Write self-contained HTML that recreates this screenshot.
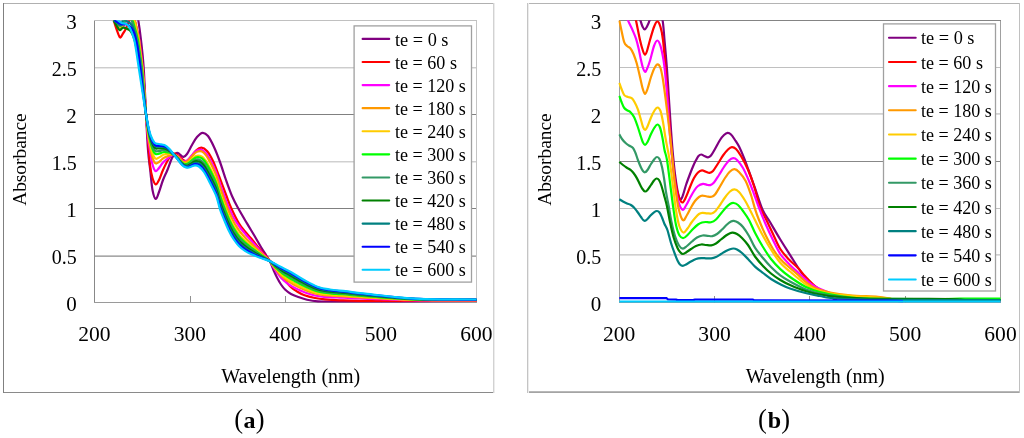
<!DOCTYPE html>
<html><head><meta charset="utf-8"><title>UV-Vis absorbance spectra</title>
<style>
html,body{margin:0;padding:0;background:#fff;}
body{width:1024px;height:438px;overflow:hidden;font-family:"Liberation Serif",serif;}
svg{display:block;}
</style></head><body>
<svg width="1024" height="438" viewBox="0 0 1024 438" font-family='"Liberation Serif", serif' fill="#000" style="will-change:transform">
<rect width="1024" height="438" fill="#fff"/>
<g shape-rendering="crispEdges">
<rect x="3.0" y="3" width="491.0" height="1" fill="#b0b0b0"/>
<rect x="3.0" y="392" width="491.0" height="1" fill="#8a8a8a"/>
<rect x="3" y="3.0" width="1" height="390.0" fill="#808080"/>
<rect x="493" y="3.0" width="1" height="390.0" fill="#d2d2d2"/>
<rect x="494" y="3.0" width="1" height="390.0" fill="#ececec"/>
<rect x="94.0" y="20" width="383.0" height="1" fill="#c0c0c0"/>
<rect x="94.0" y="67" width="383.0" height="1" fill="#cdcdcd"/>
<rect x="94.0" y="68" width="383.0" height="1" fill="#e8e8e8"/>
<rect x="94.0" y="114" width="383.0" height="1" fill="#808080"/>
<rect x="94.0" y="161" width="383.0" height="1" fill="#d0d0d0"/>
<rect x="94.0" y="162" width="383.0" height="1" fill="#e8e8e8"/>
<rect x="94.0" y="208" width="383.0" height="1" fill="#808080"/>
<rect x="94.0" y="255" width="383.0" height="1" fill="#c4c4c4"/>
<rect x="94.0" y="256" width="383.0" height="1" fill="#a8a8a8"/>
<rect x="476" y="20.5" width="1" height="282.5" fill="#c4c4c4"/>
<rect x="94" y="20.5" width="1" height="282.5" fill="#888888"/>
<rect x="94.0" y="302" width="383.0" height="1" fill="#9a9a9a"/>
<rect x="190" y="296.0" width="1" height="6.5" fill="#909090"/>
<rect x="285" y="296.0" width="1" height="6.5" fill="#909090"/>
<rect x="381" y="296.0" width="1" height="6.5" fill="#909090"/>
</g>
<clipPath id="ca"><rect x="93.5" y="20.20" width="384.0" height="286.0"/></clipPath>
<g clip-path="url(#ca)" fill="none" stroke-width="2.2" stroke-linejoin="round" stroke-linecap="butt">
<path d="M113.70,5.00 C115.58,4.17 121.45,0.00 125.00,0.00 C128.55,0.00 132.78,1.60 135.00,5.00 C137.22,8.40 137.30,14.57 138.30,20.40 C139.30,26.23 140.10,32.12 141.00,40.00 C141.90,47.88 142.87,55.37 143.70,67.70 C144.53,80.03 145.28,100.28 146.00,114.00 C146.72,127.72 147.30,140.67 148.00,150.00 C148.70,159.33 149.45,163.33 150.20,170.00 C150.95,176.67 151.58,185.17 152.50,190.00 C153.42,194.83 154.62,198.67 155.70,199.00 C156.78,199.33 157.78,195.17 159.00,192.00 C160.22,188.83 161.60,183.67 163.00,180.00 C164.40,176.33 165.90,173.67 167.40,170.00 C168.90,166.33 170.73,160.67 172.00,158.00 C173.27,155.33 174.00,154.83 175.00,154.00 C176.00,153.17 177.00,152.75 178.00,153.00 C179.00,153.25 180.08,154.85 181.00,155.50 C181.92,156.15 182.50,157.15 183.50,156.90 C184.50,156.65 185.58,155.98 187.00,154.00 C188.42,152.02 190.33,147.83 192.00,145.00 C193.67,142.17 195.23,139.03 197.00,137.00 C198.77,134.97 200.77,132.97 202.60,132.80 C204.43,132.63 206.10,133.63 208.00,136.00 C209.90,138.37 212.00,142.67 214.00,147.00 C216.00,151.33 218.00,156.50 220.00,162.00 C222.00,167.50 224.00,174.33 226.00,180.00 C228.00,185.67 229.97,191.28 232.00,196.00 C234.03,200.72 235.70,203.73 238.20,208.30 C240.70,212.87 244.37,218.95 247.00,223.40 C249.63,227.85 251.70,231.12 254.00,235.00 C256.30,238.88 258.75,243.28 260.80,246.70 C262.85,250.12 264.73,252.95 266.30,255.50 C267.87,258.05 269.00,259.58 270.20,262.00 C271.40,264.42 272.37,267.42 273.50,270.00 C274.63,272.58 275.75,275.08 277.00,277.50 C278.25,279.92 279.62,282.45 281.00,284.50 C282.38,286.55 283.63,288.22 285.30,289.80 C286.97,291.38 288.95,292.85 291.00,294.00 C293.05,295.15 294.93,295.73 297.60,296.70 C300.27,297.67 303.60,299.03 307.00,299.80 C310.40,300.57 312.50,301.02 318.00,301.30 C323.50,301.58 326.33,301.50 340.00,301.50 C353.67,301.50 377.25,301.38 400.00,301.30 C422.75,301.22 463.75,301.05 476.50,301.00" stroke="#800080"/>
<path d="M113.70,20.40 C114.17,21.83 115.45,26.17 116.50,29.00 C117.55,31.83 118.92,36.65 120.00,37.40 C121.08,38.15 122.08,34.82 123.00,33.50 C123.92,32.18 124.67,31.08 125.50,29.50 C126.33,27.92 127.25,25.75 128.00,24.00 C128.75,22.25 129.33,20.33 130.00,19.00 C130.67,17.67 131.23,15.77 132.00,16.00 C132.77,16.23 133.77,18.07 134.60,20.40 C135.43,22.73 136.23,26.73 137.00,30.00 C137.77,33.27 138.62,36.77 139.20,40.00 C139.78,43.23 139.92,44.78 140.50,49.40 C141.08,54.02 142.02,60.60 142.70,67.70 C143.38,74.80 144.05,84.28 144.60,92.00 C145.15,99.72 145.43,106.00 146.00,114.00 C146.57,122.00 147.33,131.50 148.00,140.00 C148.67,148.50 149.25,158.67 150.00,165.00 C150.75,171.33 151.55,174.77 152.50,178.00 C153.45,181.23 154.62,184.07 155.70,184.40 C156.78,184.73 157.78,182.40 159.00,180.00 C160.22,177.60 161.50,173.33 163.00,170.00 C164.50,166.67 166.33,162.73 168.00,160.00 C169.67,157.27 171.33,154.35 173.00,153.60 C174.67,152.85 176.50,154.60 178.00,155.50 C179.50,156.40 180.58,158.08 182.00,159.00 C183.42,159.92 185.00,161.33 186.50,161.00 C188.00,160.67 189.42,158.75 191.00,157.00 C192.58,155.25 194.27,152.07 196.00,150.50 C197.73,148.93 199.57,147.52 201.40,147.60 C203.23,147.68 205.07,148.77 207.00,151.00 C208.93,153.23 211.00,156.83 213.00,161.00 C215.00,165.17 216.75,170.17 219.00,176.00 C221.25,181.83 224.45,190.62 226.50,196.00 C228.55,201.38 229.23,203.73 231.30,208.30 C233.37,212.87 236.62,219.53 238.90,223.40 C241.18,227.27 242.95,228.98 245.00,231.50 C247.05,234.02 249.03,235.92 251.20,238.50 C253.37,241.08 255.70,244.25 258.00,247.00 C260.30,249.75 262.97,252.62 265.00,255.00 C267.03,257.38 268.20,258.92 270.20,261.30 C272.20,263.68 274.70,266.35 277.00,269.30 C279.30,272.25 281.70,276.05 284.00,279.00 C286.30,281.95 288.63,284.92 290.80,287.00 C292.97,289.08 294.72,290.12 297.00,291.50 C299.28,292.88 301.50,294.22 304.50,295.30 C307.50,296.38 311.58,297.32 315.00,298.00 C318.42,298.68 320.83,299.02 325.00,299.40 C329.17,299.78 334.33,300.07 340.00,300.30 C345.67,300.53 345.67,300.68 359.00,300.80 C372.33,300.92 400.42,300.97 420.00,301.00 C439.58,301.03 467.08,301.00 476.50,301.00" stroke="#ff0000"/>
<path d="M113.70,20.40 C114.25,21.00 115.88,22.82 117.00,24.00 C118.12,25.18 119.32,27.17 120.40,27.50 C121.48,27.83 122.57,26.92 123.50,26.00 C124.43,25.08 125.25,23.33 126.00,22.00 C126.75,20.67 127.17,19.17 128.00,18.00 C128.83,16.83 129.92,14.60 131.00,15.00 C132.08,15.40 133.52,17.90 134.50,20.40 C135.48,22.90 136.13,26.73 136.90,30.00 C137.67,33.27 138.52,36.77 139.10,40.00 C139.68,43.23 139.82,44.78 140.40,49.40 C140.98,54.02 141.92,60.60 142.60,67.70 C143.28,74.80 143.93,84.28 144.50,92.00 C145.07,99.72 145.42,106.43 146.00,114.00 C146.58,121.57 147.33,131.29 148.00,137.43 C148.67,143.56 149.33,146.60 150.00,150.79 C150.67,154.98 151.33,159.56 152.00,162.58 C152.67,165.60 153.33,167.50 154.00,168.92 C154.67,170.35 155.33,171.07 156.00,171.14 C156.67,171.20 157.33,170.04 158.00,169.30 C158.67,168.56 159.33,167.63 160.00,166.71 C160.67,165.79 161.33,164.66 162.00,163.78 C162.67,162.90 163.33,162.09 164.00,161.42 C164.67,160.76 165.33,160.33 166.00,159.79 C166.67,159.26 167.33,158.76 168.00,158.21 C168.67,157.66 169.33,156.98 170.00,156.48 C170.67,155.98 171.33,155.49 172.00,155.22 C172.67,154.95 173.33,154.85 174.00,154.85 C174.67,154.86 175.33,154.98 176.00,155.22 C176.67,155.46 177.33,155.77 178.00,156.30 C178.67,156.83 179.33,157.73 180.00,158.41 C180.67,159.09 181.33,159.90 182.00,160.41 C182.67,160.91 183.33,161.31 184.00,161.42 C184.67,161.54 185.33,161.37 186.00,161.08 C186.67,160.79 187.33,160.31 188.00,159.71 C188.67,159.10 189.33,158.23 190.00,157.47 C190.67,156.70 191.33,155.90 192.00,155.13 C192.67,154.37 193.33,153.54 194.00,152.86 C194.67,152.19 195.33,151.56 196.00,151.09 C196.67,150.62 197.33,150.28 198.00,150.05 C198.67,149.82 199.33,149.71 200.00,149.71 C200.67,149.70 201.33,149.78 202.00,150.04 C202.67,150.30 203.33,150.70 204.00,151.24 C204.67,151.79 205.33,152.51 206.00,153.32 C206.67,154.13 207.33,155.09 208.00,156.12 C208.67,157.15 209.33,158.31 210.00,159.51 C210.67,160.70 211.33,161.97 212.00,163.27 C212.67,164.57 213.33,165.89 214.00,167.31 C214.67,168.73 215.33,170.10 216.00,171.79 C216.67,173.48 217.33,175.46 218.00,177.45 C218.67,179.44 219.33,181.76 220.00,183.74 C220.67,185.71 221.33,187.46 222.00,189.32 C222.67,191.17 223.33,193.05 224.00,194.88 C224.67,196.71 225.33,198.54 226.00,200.30 C226.67,202.05 227.33,203.76 228.00,205.40 C228.67,207.04 229.33,208.63 230.00,210.14 C230.67,211.64 231.33,213.08 232.00,214.43 C232.67,215.78 233.33,217.02 234.00,218.21 C234.67,219.41 235.33,220.51 236.00,221.58 C236.67,222.66 237.33,223.68 238.00,224.67 C238.67,225.66 239.33,226.61 240.00,227.51 C240.67,228.40 241.33,229.23 242.00,230.05 C242.67,230.88 243.33,231.67 244.00,232.47 C244.67,233.26 245.33,234.04 246.00,234.81 C246.67,235.59 247.33,236.36 248.00,237.11 C248.67,237.87 249.33,238.61 250.00,239.35 C250.67,240.08 251.33,240.81 252.00,241.54 C252.67,242.28 253.33,243.01 254.00,243.75 C254.67,244.49 255.33,245.24 256.00,245.99 C256.67,246.74 257.33,247.50 258.00,248.25 C258.67,249.01 259.33,249.77 260.00,250.51 C260.67,251.25 261.33,251.99 262.00,252.71 C262.67,253.43 263.33,254.12 264.00,254.82 C264.67,255.52 265.33,256.22 266.00,256.94 C266.67,257.65 267.33,258.34 268.00,259.09 C268.67,259.84 269.33,260.53 270.00,261.45 C270.67,262.37 271.33,263.53 272.00,264.61 C272.67,265.70 273.33,266.90 274.00,267.97 C274.67,269.05 275.33,270.08 276.00,271.07 C276.67,272.06 277.33,273.00 278.00,273.91 C278.67,274.82 279.33,275.71 280.00,276.53 C280.67,277.34 281.33,278.10 282.00,278.81 C282.67,279.52 283.33,280.18 284.00,280.79 C284.67,281.40 285.33,281.94 286.00,282.45 C286.67,282.97 287.33,283.45 288.00,283.91 C288.67,284.37 289.33,284.80 290.00,285.22 C290.67,285.63 291.33,286.03 292.00,286.40 C292.67,286.77 293.33,287.11 294.00,287.45 C294.67,287.79 295.33,288.11 296.00,288.43 C296.67,288.76 297.33,289.08 298.00,289.41 C298.67,289.73 298.33,289.69 300.00,290.38 C301.67,291.08 305.33,292.68 308.00,293.58 C310.67,294.47 313.33,295.21 316.00,295.76 C318.67,296.30 321.33,296.58 324.00,296.84 C326.67,297.09 329.33,297.16 332.00,297.28 C334.67,297.41 337.33,297.48 340.00,297.58 C342.67,297.68 345.33,297.78 348.00,297.90 C350.67,298.02 353.33,298.19 356.00,298.31 C358.67,298.43 361.33,298.52 364.00,298.62 C366.67,298.73 369.33,298.82 372.00,298.92 C374.67,299.02 377.33,299.12 380.00,299.22 C382.67,299.32 385.33,299.43 388.00,299.52 C390.67,299.62 393.33,299.71 396.00,299.80 C398.67,299.88 401.33,299.97 404.00,300.04 C406.67,300.12 409.33,300.19 412.00,300.24 C414.67,300.29 417.33,300.33 420.00,300.36 C422.67,300.39 425.33,300.41 428.00,300.43 C430.67,300.45 433.33,300.46 436.00,300.47 C438.67,300.48 441.33,300.48 444.00,300.49 C446.67,300.49 449.33,300.49 452.00,300.49 C454.67,300.49 457.33,300.49 460.00,300.48 C462.67,300.48 465.25,300.47 468.00,300.47 C470.75,300.47 475.08,300.46 476.50,300.46" stroke="#ff00ff"/>
<path d="M113.70,20.40 C114.25,20.83 115.92,22.15 117.00,23.00 C118.08,23.85 119.20,25.33 120.20,25.50 C121.20,25.67 122.03,24.92 123.00,24.00 C123.97,23.08 124.83,21.50 126.00,20.00 C127.17,18.50 128.53,14.93 130.00,15.00 C131.47,15.07 133.63,17.90 134.80,20.40 C135.97,22.90 136.30,26.85 137.00,30.00 C137.70,33.15 138.47,36.07 139.00,39.30 C139.53,42.53 139.62,44.67 140.20,49.40 C140.78,54.13 141.80,60.60 142.50,67.70 C143.20,74.80 143.82,84.28 144.40,92.00 C144.98,99.72 145.40,107.00 146.00,114.00 C146.60,121.00 147.33,128.66 148.00,134.00 C148.67,139.34 149.33,142.36 150.00,146.03 C150.67,149.69 151.33,153.39 152.00,155.97 C152.67,158.56 153.33,160.26 154.00,161.53 C154.67,162.79 155.33,163.37 156.00,163.55 C156.67,163.74 157.33,163.03 158.00,162.62 C158.67,162.21 159.33,161.66 160.00,161.10 C160.67,160.53 161.33,159.78 162.00,159.22 C162.67,158.66 163.33,158.13 164.00,157.74 C164.67,157.36 165.33,157.16 166.00,156.89 C166.67,156.62 167.33,156.39 168.00,156.11 C168.67,155.83 169.33,155.44 170.00,155.21 C170.67,154.98 171.33,154.77 172.00,154.71 C172.67,154.65 173.33,154.71 174.00,154.85 C174.67,154.99 175.33,155.22 176.00,155.55 C176.67,155.88 177.33,156.26 178.00,156.84 C178.67,157.42 179.33,158.31 180.00,159.01 C180.67,159.71 181.33,160.50 182.00,161.01 C182.67,161.53 183.33,161.95 184.00,162.10 C184.67,162.24 185.33,162.12 186.00,161.88 C186.67,161.64 187.33,161.22 188.00,160.66 C188.67,160.11 189.33,159.28 190.00,158.56 C190.67,157.84 191.33,157.07 192.00,156.33 C192.67,155.59 193.33,154.78 194.00,154.13 C194.67,153.48 195.33,152.88 196.00,152.44 C196.67,151.99 197.33,151.66 198.00,151.45 C198.67,151.23 199.33,151.14 200.00,151.14 C200.67,151.15 201.33,151.19 202.00,151.50 C202.67,151.80 203.33,152.33 204.00,152.97 C204.67,153.61 205.33,154.42 206.00,155.32 C206.67,156.23 207.33,157.27 208.00,158.39 C208.67,159.50 209.33,160.74 210.00,162.00 C210.67,163.27 211.33,164.60 212.00,165.96 C212.67,167.32 213.33,168.70 214.00,170.17 C214.67,171.65 215.33,173.05 216.00,174.82 C216.67,176.59 217.33,178.68 218.00,180.78 C218.67,182.88 219.33,185.35 220.00,187.41 C220.67,189.47 221.33,191.25 222.00,193.15 C222.67,195.05 223.33,196.94 224.00,198.80 C224.67,200.66 225.33,202.53 226.00,204.31 C226.67,206.10 227.33,207.84 228.00,209.50 C228.67,211.16 229.33,212.77 230.00,214.29 C230.67,215.81 231.33,217.26 232.00,218.62 C232.67,219.98 233.33,221.24 234.00,222.44 C234.67,223.65 235.33,224.77 236.00,225.86 C236.67,226.95 237.33,227.98 238.00,228.96 C238.67,229.95 239.33,230.92 240.00,231.77 C240.67,232.63 241.33,233.36 242.00,234.12 C242.67,234.87 243.33,235.59 244.00,236.30 C244.67,237.02 245.33,237.72 246.00,238.41 C246.67,239.10 247.33,239.78 248.00,240.45 C248.67,241.11 249.33,241.76 250.00,242.41 C250.67,243.06 251.33,243.69 252.00,244.33 C252.67,244.97 253.33,245.61 254.00,246.25 C254.67,246.89 255.33,247.53 256.00,248.17 C256.67,248.81 257.33,249.46 258.00,250.10 C258.67,250.74 259.33,251.39 260.00,252.03 C260.67,252.66 261.33,253.29 262.00,253.91 C262.67,254.52 263.33,255.11 264.00,255.71 C264.67,256.31 265.33,256.91 266.00,257.52 C266.67,258.13 267.33,258.72 268.00,259.37 C268.67,260.01 269.33,260.61 270.00,261.40 C270.67,262.19 271.33,263.17 272.00,264.10 C272.67,265.03 273.33,266.05 274.00,266.98 C274.67,267.91 275.33,268.80 276.00,269.66 C276.67,270.52 277.33,271.35 278.00,272.15 C278.67,272.94 279.33,273.72 280.00,274.44 C280.67,275.16 281.33,275.83 282.00,276.47 C282.67,277.10 283.33,277.70 284.00,278.25 C284.67,278.80 285.33,279.30 286.00,279.78 C286.67,280.26 287.33,280.71 288.00,281.15 C288.67,281.59 289.33,282.00 290.00,282.41 C290.67,282.82 291.33,283.21 292.00,283.59 C292.67,283.97 293.33,284.32 294.00,284.68 C294.67,285.03 295.33,285.37 296.00,285.72 C296.67,286.06 297.33,286.40 298.00,286.75 C298.67,287.09 298.33,287.03 300.00,287.78 C301.67,288.53 305.33,290.25 308.00,291.25 C310.67,292.25 313.33,293.15 316.00,293.80 C318.67,294.45 321.33,294.83 324.00,295.16 C326.67,295.49 329.33,295.59 332.00,295.76 C334.67,295.93 337.33,296.03 340.00,296.17 C342.67,296.31 345.33,296.44 348.00,296.60 C350.67,296.77 353.33,297.00 356.00,297.17 C358.67,297.34 361.33,297.47 364.00,297.61 C366.67,297.75 369.33,297.88 372.00,298.02 C374.67,298.16 377.33,298.30 380.00,298.44 C382.67,298.58 385.33,298.73 388.00,298.86 C390.67,299.00 393.33,299.13 396.00,299.25 C398.67,299.37 401.33,299.49 404.00,299.60 C406.67,299.70 409.33,299.80 412.00,299.87 C414.67,299.95 417.33,300.00 420.00,300.05 C422.67,300.10 425.33,300.13 428.00,300.16 C430.67,300.18 433.33,300.20 436.00,300.22 C438.67,300.24 441.33,300.25 444.00,300.26 C446.67,300.26 449.33,300.27 452.00,300.27 C454.67,300.27 457.33,300.27 460.00,300.27 C462.67,300.27 465.25,300.27 468.00,300.27 C470.75,300.27 475.08,300.27 476.50,300.26" stroke="#ff9900"/>
<path d="M113.70,20.40 C114.23,20.90 115.78,22.25 116.90,23.40 C118.02,24.55 119.42,26.92 120.40,27.30 C121.38,27.68 122.03,26.58 122.80,25.70 C123.57,24.82 124.13,23.45 125.00,22.00 C125.87,20.55 127.00,18.17 128.00,17.00 C129.00,15.83 130.00,14.43 131.00,15.00 C132.00,15.57 133.12,17.90 134.00,20.40 C134.88,22.90 135.58,26.85 136.30,30.00 C137.02,33.15 137.73,36.07 138.30,39.30 C138.87,42.53 139.05,44.67 139.70,49.40 C140.35,54.13 141.45,60.60 142.20,67.70 C142.95,74.80 143.57,84.28 144.20,92.00 C144.83,99.72 145.37,107.36 146.00,114.00 C146.63,120.64 147.33,127.01 148.00,131.85 C148.67,136.69 149.33,139.71 150.00,143.04 C150.67,146.36 151.33,149.52 152.00,151.83 C152.67,154.14 153.33,155.72 154.00,156.89 C154.67,158.05 155.33,158.60 156.00,158.80 C156.67,158.99 157.33,158.38 158.00,158.07 C158.67,157.76 159.33,157.35 160.00,156.93 C160.67,156.51 161.33,155.93 162.00,155.53 C162.67,155.12 163.33,154.74 164.00,154.50 C164.67,154.26 165.33,154.19 166.00,154.09 C166.67,153.99 167.33,153.94 168.00,153.88 C168.67,153.83 169.33,153.71 170.00,153.74 C170.67,153.77 171.33,153.88 172.00,154.06 C172.67,154.25 173.33,154.52 174.00,154.85 C174.67,155.17 175.33,155.54 176.00,156.01 C176.67,156.47 177.33,156.99 178.00,157.65 C178.67,158.31 179.33,159.23 180.00,159.96 C180.67,160.70 181.33,161.48 182.00,162.04 C182.67,162.60 183.33,163.08 184.00,163.31 C184.67,163.53 185.33,163.53 186.00,163.41 C186.67,163.29 187.33,163.02 188.00,162.61 C188.67,162.20 189.33,161.52 190.00,160.94 C190.67,160.36 191.33,159.73 192.00,159.12 C192.67,158.52 193.33,157.82 194.00,157.32 C194.67,156.81 195.33,156.37 196.00,156.08 C196.67,155.78 197.33,155.59 198.00,155.54 C198.67,155.48 199.33,155.57 200.00,155.74 C200.67,155.92 201.33,156.15 202.00,156.59 C202.67,157.03 203.33,157.65 204.00,158.38 C204.67,159.11 205.33,160.01 206.00,160.99 C206.67,161.96 207.33,163.07 208.00,164.22 C208.67,165.37 209.33,166.62 210.00,167.88 C210.67,169.15 211.33,170.45 212.00,171.78 C212.67,173.12 213.33,174.45 214.00,175.89 C214.67,177.34 215.33,178.68 216.00,180.45 C216.67,182.22 217.33,184.37 218.00,186.52 C218.67,188.67 219.33,191.28 220.00,193.35 C220.67,195.42 221.33,197.12 222.00,198.95 C222.67,200.79 223.33,202.59 224.00,204.38 C224.67,206.17 225.33,207.97 226.00,209.68 C226.67,211.40 227.33,213.08 228.00,214.67 C228.67,216.26 229.33,217.78 230.00,219.23 C230.67,220.67 231.33,222.05 232.00,223.34 C232.67,224.63 233.33,225.82 234.00,226.96 C234.67,228.11 235.33,229.17 236.00,230.20 C236.67,231.22 237.33,232.19 238.00,233.10 C238.67,234.02 239.33,234.90 240.00,235.69 C240.67,236.47 241.33,237.12 242.00,237.80 C242.67,238.47 243.33,239.11 244.00,239.74 C244.67,240.37 245.33,240.98 246.00,241.59 C246.67,242.19 247.33,242.78 248.00,243.36 C248.67,243.94 249.33,244.50 250.00,245.06 C250.67,245.61 251.33,246.16 252.00,246.71 C252.67,247.26 253.33,247.80 254.00,248.35 C254.67,248.89 255.33,249.44 256.00,249.98 C256.67,250.53 257.33,251.07 258.00,251.62 C258.67,252.16 259.33,252.71 260.00,253.25 C260.67,253.80 261.33,254.34 262.00,254.87 C262.67,255.39 263.33,255.90 264.00,256.41 C264.67,256.93 265.33,257.44 266.00,257.97 C266.67,258.50 267.33,259.01 268.00,259.58 C268.67,260.14 269.33,260.67 270.00,261.36 C270.67,262.05 271.33,262.90 272.00,263.71 C272.67,264.53 273.33,265.42 274.00,266.24 C274.67,267.06 275.33,267.86 276.00,268.63 C276.67,269.40 277.33,270.15 278.00,270.87 C278.67,271.60 279.33,272.31 280.00,272.96 C280.67,273.62 281.33,274.24 282.00,274.83 C282.67,275.42 283.33,275.97 284.00,276.49 C284.67,277.01 285.33,277.49 286.00,277.95 C286.67,278.42 287.33,278.86 288.00,279.29 C288.67,279.73 289.33,280.14 290.00,280.55 C290.67,280.97 291.33,281.37 292.00,281.76 C292.67,282.15 293.33,282.52 294.00,282.89 C294.67,283.27 295.33,283.63 296.00,283.99 C296.67,284.36 297.33,284.72 298.00,285.09 C298.67,285.45 298.33,285.39 300.00,286.18 C301.67,286.97 305.33,288.75 308.00,289.82 C310.67,290.88 313.33,291.88 316.00,292.59 C318.67,293.31 321.33,293.76 324.00,294.13 C326.67,294.50 329.33,294.63 332.00,294.82 C334.67,295.02 337.33,295.13 340.00,295.30 C342.67,295.46 345.33,295.61 348.00,295.81 C350.67,296.00 353.33,296.27 356.00,296.47 C358.67,296.67 361.33,296.82 364.00,296.98 C366.67,297.15 369.33,297.30 372.00,297.47 C374.67,297.63 377.33,297.80 380.00,297.96 C382.67,298.13 385.33,298.30 388.00,298.46 C390.67,298.62 393.33,298.77 396.00,298.91 C398.67,299.05 401.33,299.20 404.00,299.32 C406.67,299.44 409.33,299.56 412.00,299.65 C414.67,299.73 417.33,299.80 420.00,299.86 C422.67,299.91 425.33,299.95 428.00,299.99 C430.67,300.02 433.33,300.04 436.00,300.06 C438.67,300.09 441.33,300.10 444.00,300.11 C446.67,300.12 449.33,300.13 452.00,300.13 C454.67,300.14 457.33,300.14 460.00,300.14 C462.67,300.14 465.25,300.14 468.00,300.14 C470.75,300.14 475.08,300.14 476.50,300.14" stroke="#ffcc00"/>
<path d="M113.70,20.40 C114.25,20.75 115.92,21.82 117.00,22.50 C118.08,23.18 119.20,24.42 120.20,24.50 C121.20,24.58 122.03,23.92 123.00,23.00 C123.97,22.08 125.00,20.33 126.00,19.00 C127.00,17.67 127.92,14.77 129.00,15.00 C130.08,15.23 131.53,18.23 132.50,20.40 C133.47,22.57 134.07,25.50 134.80,28.00 C135.53,30.50 136.32,33.07 136.90,35.40 C137.48,37.73 137.90,39.67 138.30,42.00 C138.70,44.33 138.72,45.12 139.30,49.40 C139.88,53.68 141.02,60.60 141.80,67.70 C142.58,74.80 143.30,84.28 144.00,92.00 C144.70,99.72 145.33,107.71 146.00,114.00 C146.67,120.29 147.33,125.40 148.00,129.75 C148.67,134.10 149.33,137.11 150.00,140.11 C150.67,143.12 151.33,145.74 152.00,147.78 C152.67,149.82 153.33,151.29 154.00,152.35 C154.67,153.41 155.33,153.89 156.00,154.15 C156.67,154.40 157.33,154.03 158.00,153.89 C158.67,153.76 159.33,153.57 160.00,153.34 C160.67,153.12 161.33,152.77 162.00,152.55 C162.67,152.33 163.33,152.11 164.00,152.03 C164.67,151.96 165.33,152.03 166.00,152.10 C166.67,152.16 167.33,152.28 168.00,152.39 C168.67,152.51 169.33,152.59 170.00,152.81 C170.67,153.02 171.33,153.34 172.00,153.68 C172.67,154.02 173.33,154.41 174.00,154.84 C174.67,155.27 175.33,155.72 176.00,156.26 C176.67,156.80 177.33,157.38 178.00,158.08 C178.67,158.78 179.33,159.72 180.00,160.46 C180.67,161.21 181.33,161.99 182.00,162.56 C182.67,163.13 183.33,163.63 184.00,163.89 C184.67,164.16 185.33,164.20 186.00,164.13 C186.67,164.06 187.33,163.85 188.00,163.50 C188.67,163.14 189.33,162.52 190.00,161.99 C190.67,161.46 191.33,160.87 192.00,160.31 C192.67,159.75 193.33,159.09 194.00,158.62 C194.67,158.16 195.33,157.77 196.00,157.52 C196.67,157.27 197.33,157.12 198.00,157.11 C198.67,157.09 199.33,157.23 200.00,157.45 C200.67,157.66 201.33,157.93 202.00,158.42 C202.67,158.90 203.33,159.56 204.00,160.34 C204.67,161.11 205.33,162.05 206.00,163.06 C206.67,164.06 207.33,165.20 208.00,166.37 C208.67,167.54 209.33,168.81 210.00,170.08 C210.67,171.35 211.33,172.65 212.00,173.98 C212.67,175.32 213.33,176.64 214.00,178.08 C214.67,179.52 215.33,180.85 216.00,182.63 C216.67,184.42 217.33,186.60 218.00,188.78 C218.67,190.96 219.33,193.62 220.00,195.71 C220.67,197.79 221.33,199.47 222.00,201.29 C222.67,203.11 223.33,204.88 224.00,206.65 C224.67,208.42 225.33,210.21 226.00,211.90 C226.67,213.60 227.33,215.27 228.00,216.84 C228.67,218.41 229.33,219.90 230.00,221.32 C230.67,222.75 231.33,224.10 232.00,225.37 C232.67,226.63 233.33,227.81 234.00,228.93 C234.67,230.06 235.33,231.11 236.00,232.11 C236.67,233.12 237.33,234.07 238.00,234.96 C238.67,235.85 239.33,236.70 240.00,237.46 C240.67,238.23 241.33,238.89 242.00,239.55 C242.67,240.22 243.33,240.84 244.00,241.45 C244.67,242.07 245.33,242.67 246.00,243.25 C246.67,243.83 247.33,244.40 248.00,244.95 C248.67,245.50 249.33,246.04 250.00,246.57 C250.67,247.10 251.33,247.61 252.00,248.13 C252.67,248.64 253.33,249.15 254.00,249.65 C254.67,250.16 255.33,250.66 256.00,251.15 C256.67,251.65 257.33,252.14 258.00,252.64 C258.67,253.13 259.33,253.63 260.00,254.11 C260.67,254.60 261.33,255.09 262.00,255.56 C262.67,256.03 263.33,256.48 264.00,256.95 C264.67,257.41 265.33,257.86 266.00,258.33 C266.67,258.79 267.33,259.25 268.00,259.75 C268.67,260.25 269.33,260.73 270.00,261.33 C270.67,261.93 271.33,262.67 272.00,263.38 C272.67,264.09 273.33,264.86 274.00,265.58 C274.67,266.29 275.33,266.99 276.00,267.67 C276.67,268.35 277.33,269.01 278.00,269.64 C278.67,270.28 279.33,270.90 280.00,271.49 C280.67,272.07 281.33,272.61 282.00,273.13 C282.67,273.66 283.33,274.15 284.00,274.62 C284.67,275.09 285.33,275.52 286.00,275.94 C286.67,276.37 287.33,276.77 288.00,277.18 C288.67,277.58 289.33,277.98 290.00,278.37 C290.67,278.76 291.33,279.15 292.00,279.53 C292.67,279.91 293.33,280.28 294.00,280.66 C294.67,281.03 295.33,281.40 296.00,281.76 C296.67,282.13 297.33,282.50 298.00,282.87 C298.67,283.24 298.33,283.15 300.00,283.98 C301.67,284.81 305.33,286.69 308.00,287.85 C310.67,289.01 313.33,290.13 316.00,290.94 C318.67,291.75 321.33,292.27 324.00,292.71 C326.67,293.14 329.33,293.30 332.00,293.53 C334.67,293.76 337.33,293.90 340.00,294.10 C342.67,294.30 345.33,294.48 348.00,294.71 C350.67,294.95 353.33,295.27 356.00,295.51 C358.67,295.74 361.33,295.92 364.00,296.12 C366.67,296.32 369.33,296.51 372.00,296.70 C374.67,296.90 377.33,297.11 380.00,297.31 C382.67,297.50 385.33,297.71 388.00,297.90 C390.67,298.09 393.33,298.27 396.00,298.45 C398.67,298.62 401.33,298.79 404.00,298.94 C406.67,299.09 409.33,299.23 412.00,299.33 C414.67,299.44 417.33,299.52 420.00,299.59 C422.67,299.66 425.33,299.71 428.00,299.75 C430.67,299.80 433.33,299.83 436.00,299.85 C438.67,299.88 441.33,299.90 444.00,299.92 C446.67,299.93 449.33,299.94 452.00,299.95 C454.67,299.96 457.33,299.96 460.00,299.96 C462.67,299.97 465.25,299.97 468.00,299.97 C470.75,299.97 475.08,299.98 476.50,299.98" stroke="#00ff00"/>
<path d="M113.70,20.40 C114.25,20.83 115.92,22.07 117.00,23.00 C118.08,23.93 119.20,25.83 120.20,26.00 C121.20,26.17 122.03,25.00 123.00,24.00 C123.97,23.00 125.08,21.33 126.00,20.00 C126.92,18.67 127.58,15.93 128.50,16.00 C129.42,16.07 130.58,18.40 131.50,20.40 C132.42,22.40 133.22,25.50 134.00,28.00 C134.78,30.50 135.40,31.83 136.20,35.40 C137.00,38.97 137.92,44.02 138.80,49.40 C139.68,54.78 140.67,60.60 141.50,67.70 C142.33,74.80 143.05,84.28 143.80,92.00 C144.55,99.72 145.30,107.93 146.00,114.00 C146.70,120.07 147.33,124.38 148.00,128.43 C148.67,132.47 149.33,135.47 150.00,138.27 C150.67,141.07 151.33,143.35 152.00,145.22 C152.67,147.09 153.33,148.49 154.00,149.49 C154.67,150.49 155.33,150.95 156.00,151.21 C156.67,151.48 157.33,151.17 158.00,151.10 C158.67,151.04 159.33,150.94 160.00,150.81 C160.67,150.68 161.33,150.44 162.00,150.32 C162.67,150.20 163.33,150.07 164.00,150.08 C164.67,150.10 165.33,150.26 166.00,150.42 C166.67,150.59 167.33,150.82 168.00,151.07 C168.67,151.33 169.33,151.57 170.00,151.94 C170.67,152.31 171.33,152.82 172.00,153.30 C172.67,153.78 173.33,154.30 174.00,154.84 C174.67,155.38 175.33,155.91 176.00,156.53 C176.67,157.15 177.33,157.81 178.00,158.56 C178.67,159.30 179.33,160.25 180.00,161.02 C180.67,161.78 181.33,162.56 182.00,163.16 C182.67,163.75 183.33,164.29 184.00,164.60 C184.67,164.91 185.33,165.01 186.00,165.02 C186.67,165.02 187.33,164.90 188.00,164.62 C188.67,164.35 189.33,163.81 190.00,163.36 C190.67,162.91 191.33,162.40 192.00,161.92 C192.67,161.43 193.33,160.84 194.00,160.45 C194.67,160.07 195.33,159.78 196.00,159.61 C196.67,159.44 197.33,159.37 198.00,159.45 C198.67,159.53 199.33,159.77 200.00,160.08 C200.67,160.39 201.33,160.77 202.00,161.33 C202.67,161.89 203.33,162.60 204.00,163.42 C204.67,164.25 205.33,165.24 206.00,166.28 C206.67,167.32 207.33,168.49 208.00,169.68 C208.67,170.87 209.33,172.15 210.00,173.42 C210.67,174.68 211.33,175.96 212.00,177.28 C212.67,178.59 213.33,179.89 214.00,181.31 C214.67,182.73 215.33,184.02 216.00,185.80 C216.67,187.59 217.33,189.80 218.00,192.01 C218.67,194.21 219.33,196.95 220.00,199.04 C220.67,201.12 221.33,202.75 222.00,204.54 C222.67,206.32 223.33,208.04 224.00,209.76 C224.67,211.49 225.33,213.24 226.00,214.89 C226.67,216.55 227.33,218.18 228.00,219.71 C228.67,221.23 229.33,222.68 230.00,224.06 C230.67,225.44 231.33,226.74 232.00,227.97 C232.67,229.20 233.33,230.33 234.00,231.42 C234.67,232.51 235.33,233.53 236.00,234.49 C236.67,235.46 237.33,236.37 238.00,237.22 C238.67,238.07 239.33,238.87 240.00,239.60 C240.67,240.33 241.33,240.97 242.00,241.60 C242.67,242.24 243.33,242.82 244.00,243.40 C244.67,243.99 245.33,244.55 246.00,245.09 C246.67,245.64 247.33,246.16 248.00,246.67 C248.67,247.19 249.33,247.68 250.00,248.16 C250.67,248.65 251.33,249.12 252.00,249.59 C252.67,250.06 253.33,250.52 254.00,250.97 C254.67,251.43 255.33,251.87 256.00,252.31 C256.67,252.76 257.33,253.19 258.00,253.63 C258.67,254.06 259.33,254.50 260.00,254.93 C260.67,255.36 261.33,255.80 262.00,256.22 C262.67,256.63 263.33,257.03 264.00,257.43 C264.67,257.84 265.33,258.24 266.00,258.65 C266.67,259.06 267.33,259.46 268.00,259.90 C268.67,260.35 269.33,260.77 270.00,261.30 C270.67,261.83 271.33,262.47 272.00,263.09 C272.67,263.71 273.33,264.38 274.00,265.01 C274.67,265.64 275.33,266.26 276.00,266.87 C276.67,267.47 277.33,268.06 278.00,268.63 C278.67,269.20 279.33,269.76 280.00,270.28 C280.67,270.80 281.33,271.29 282.00,271.77 C282.67,272.24 283.33,272.69 284.00,273.13 C284.67,273.56 285.33,273.96 286.00,274.36 C286.67,274.77 287.33,275.15 288.00,275.54 C288.67,275.93 289.33,276.31 290.00,276.69 C290.67,277.08 291.33,277.46 292.00,277.84 C292.67,278.22 293.33,278.60 294.00,278.98 C294.67,279.36 295.33,279.73 296.00,280.11 C296.67,280.49 297.33,280.87 298.00,281.25 C298.67,281.62 298.33,281.52 300.00,282.38 C301.67,283.24 305.33,285.19 308.00,286.41 C310.67,287.64 313.33,288.86 316.00,289.73 C318.67,290.61 321.33,291.20 324.00,291.67 C326.67,292.15 329.33,292.33 332.00,292.59 C334.67,292.85 337.33,293.01 340.00,293.23 C342.67,293.45 345.33,293.65 348.00,293.91 C350.67,294.18 353.33,294.54 356.00,294.80 C358.67,295.07 361.33,295.27 364.00,295.50 C366.67,295.72 369.33,295.93 372.00,296.15 C374.67,296.37 377.33,296.60 380.00,296.83 C382.67,297.05 385.33,297.28 388.00,297.50 C390.67,297.71 393.33,297.91 396.00,298.11 C398.67,298.30 401.33,298.50 404.00,298.66 C406.67,298.83 409.33,298.99 412.00,299.11 C414.67,299.23 417.33,299.32 420.00,299.40 C422.67,299.48 425.33,299.53 428.00,299.58 C430.67,299.63 433.33,299.67 436.00,299.70 C438.67,299.73 441.33,299.76 444.00,299.77 C446.67,299.79 449.33,299.80 452.00,299.81 C454.67,299.82 457.33,299.83 460.00,299.83 C462.67,299.84 465.25,299.84 468.00,299.85 C470.75,299.85 475.08,299.86 476.50,299.86" stroke="#339966"/>
<path d="M113.70,20.40 C114.17,21.25 115.52,23.90 116.50,25.50 C117.48,27.10 118.72,29.50 119.60,30.00 C120.48,30.50 121.12,28.90 121.80,28.50 C122.48,28.10 122.83,27.55 123.70,27.60 C124.57,27.65 125.95,28.32 127.00,28.80 C128.05,29.28 129.03,29.47 130.00,30.50 C130.97,31.53 132.00,33.25 132.80,35.00 C133.60,36.75 134.17,38.60 134.80,41.00 C135.43,43.40 135.77,44.95 136.60,49.40 C137.43,53.85 138.73,60.60 139.80,67.70 C140.87,74.80 141.97,84.28 143.00,92.00 C144.03,99.72 145.17,108.14 146.00,114.00 C146.83,119.86 147.33,123.40 148.00,127.15 C148.67,130.90 149.33,133.90 150.00,136.50 C150.67,139.10 151.33,141.06 152.00,142.77 C152.67,144.47 153.33,145.80 154.00,146.74 C154.67,147.68 155.33,148.10 156.00,148.39 C156.67,148.68 157.33,148.46 158.00,148.47 C158.67,148.49 159.33,148.50 160.00,148.47 C160.67,148.44 161.33,148.32 162.00,148.30 C162.67,148.28 163.33,148.24 164.00,148.35 C164.67,148.46 165.33,148.69 166.00,148.96 C166.67,149.22 167.33,149.56 168.00,149.94 C168.67,150.31 169.33,150.69 170.00,151.20 C170.67,151.71 171.33,152.38 172.00,152.98 C172.67,153.59 173.33,154.21 174.00,154.84 C174.67,155.46 175.33,156.07 176.00,156.75 C176.67,157.44 177.33,158.15 178.00,158.94 C178.67,159.73 179.33,160.69 180.00,161.47 C180.67,162.25 181.33,163.02 182.00,163.64 C182.67,164.25 183.33,164.81 184.00,165.15 C184.67,165.50 185.33,165.66 186.00,165.72 C186.67,165.78 187.33,165.72 188.00,165.51 C188.67,165.29 189.33,164.83 190.00,164.44 C190.67,164.05 191.33,163.59 192.00,163.16 C192.67,162.73 193.33,162.19 194.00,161.86 C194.67,161.54 195.33,161.31 196.00,161.21 C196.67,161.10 197.33,161.09 198.00,161.23 C198.67,161.38 199.33,161.69 200.00,162.07 C200.67,162.45 201.33,162.90 202.00,163.51 C202.67,164.13 203.33,164.89 204.00,165.77 C204.67,166.64 205.33,167.68 206.00,168.76 C206.67,169.85 207.33,171.05 208.00,172.27 C208.67,173.48 209.33,174.78 210.00,176.06 C210.67,177.33 211.33,178.61 212.00,179.92 C212.67,181.23 213.33,182.52 214.00,183.94 C214.67,185.36 215.33,186.63 216.00,188.42 C216.67,190.22 217.33,192.47 218.00,194.71 C218.67,196.96 219.33,199.76 220.00,201.87 C220.67,203.97 221.33,205.57 222.00,207.34 C222.67,209.11 223.33,210.79 224.00,212.49 C224.67,214.19 225.33,215.92 226.00,217.56 C226.67,219.19 227.33,220.80 228.00,222.30 C228.67,223.81 229.33,225.22 230.00,226.57 C230.67,227.92 231.33,229.20 232.00,230.41 C232.67,231.61 233.33,232.72 234.00,233.79 C234.67,234.85 235.33,235.85 236.00,236.79 C236.67,237.74 237.33,238.63 238.00,239.45 C238.67,240.27 239.33,241.03 240.00,241.73 C240.67,242.43 241.33,243.04 242.00,243.64 C242.67,244.24 243.33,244.79 244.00,245.33 C244.67,245.88 245.33,246.40 246.00,246.90 C246.67,247.41 247.33,247.89 248.00,248.36 C248.67,248.83 249.33,249.27 250.00,249.72 C250.67,250.16 251.33,250.59 252.00,251.01 C252.67,251.43 253.33,251.84 254.00,252.25 C254.67,252.65 255.33,253.04 256.00,253.43 C256.67,253.81 257.33,254.19 258.00,254.57 C258.67,254.95 259.33,255.33 260.00,255.71 C260.67,256.09 261.33,256.47 262.00,256.83 C262.67,257.20 263.33,257.54 264.00,257.89 C264.67,258.25 265.33,258.59 266.00,258.95 C266.67,259.31 267.33,259.66 268.00,260.05 C268.67,260.44 269.33,260.81 270.00,261.28 C270.67,261.74 271.33,262.28 272.00,262.82 C272.67,263.36 273.33,263.94 274.00,264.49 C274.67,265.04 275.33,265.59 276.00,266.13 C276.67,266.66 277.33,267.19 278.00,267.70 C278.67,268.21 279.33,268.71 280.00,269.18 C280.67,269.66 281.33,270.10 282.00,270.53 C282.67,270.97 283.33,271.38 284.00,271.78 C284.67,272.18 285.33,272.56 286.00,272.95 C286.67,273.33 287.33,273.70 288.00,274.07 C288.67,274.45 289.33,274.82 290.00,275.20 C290.67,275.58 291.33,275.96 292.00,276.34 C292.67,276.72 293.33,277.11 294.00,277.49 C294.67,277.88 295.33,278.27 296.00,278.65 C296.67,279.04 297.33,279.43 298.00,279.82 C298.67,280.21 298.33,280.09 300.00,280.98 C301.67,281.87 305.33,283.88 308.00,285.16 C310.67,286.44 313.33,287.75 316.00,288.68 C318.67,289.61 321.33,290.25 324.00,290.77 C326.67,291.28 329.33,291.49 332.00,291.77 C334.67,292.05 337.33,292.23 340.00,292.47 C342.67,292.71 345.33,292.93 348.00,293.22 C350.67,293.50 353.33,293.90 356.00,294.19 C358.67,294.48 361.33,294.70 364.00,294.95 C366.67,295.19 369.33,295.42 372.00,295.67 C374.67,295.91 377.33,296.16 380.00,296.41 C382.67,296.65 385.33,296.91 388.00,297.14 C390.67,297.38 393.33,297.60 396.00,297.81 C398.67,298.03 401.33,298.24 404.00,298.42 C406.67,298.61 409.33,298.78 412.00,298.91 C414.67,299.05 417.33,299.15 420.00,299.23 C422.67,299.32 425.33,299.38 428.00,299.44 C430.67,299.49 433.33,299.53 436.00,299.56 C438.67,299.60 441.33,299.63 444.00,299.65 C446.67,299.67 449.33,299.68 452.00,299.69 C454.67,299.71 457.33,299.71 460.00,299.72 C462.67,299.73 465.25,299.73 468.00,299.74 C470.75,299.74 475.08,299.75 476.50,299.75" stroke="#008000"/>
<path d="M113.70,20.40 C114.25,20.75 115.95,21.73 117.00,22.50 C118.05,23.27 119.17,25.00 120.00,25.00 C120.83,25.00 121.42,23.50 122.00,22.50 C122.58,21.50 122.92,19.35 123.50,19.00 C124.08,18.65 124.67,19.90 125.50,20.40 C126.33,20.90 127.53,21.32 128.50,22.00 C129.47,22.68 130.47,23.33 131.30,24.50 C132.13,25.67 132.85,27.18 133.50,29.00 C134.15,30.82 134.48,32.00 135.20,35.40 C135.92,38.80 136.92,44.02 137.80,49.40 C138.68,54.78 139.58,60.60 140.50,67.70 C141.42,74.80 142.38,84.28 143.30,92.00 C144.22,99.72 145.22,108.29 146.00,114.00 C146.78,119.71 147.33,122.73 148.00,126.28 C148.67,129.82 149.33,132.81 150.00,135.28 C150.67,137.75 151.33,139.48 152.00,141.08 C152.67,142.67 153.33,143.95 154.00,144.85 C154.67,145.75 155.33,146.16 156.00,146.45 C156.67,146.75 157.33,146.56 158.00,146.61 C158.67,146.66 159.33,146.73 160.00,146.76 C160.67,146.78 161.33,146.73 162.00,146.77 C162.67,146.82 163.33,146.83 164.00,147.00 C164.67,147.17 165.33,147.46 166.00,147.79 C166.67,148.13 167.33,148.54 168.00,149.01 C168.67,149.47 169.33,149.97 170.00,150.58 C170.67,151.20 171.33,152.00 172.00,152.71 C172.67,153.42 173.33,154.13 174.00,154.83 C174.67,155.54 175.33,156.20 176.00,156.95 C176.67,157.69 177.33,158.46 178.00,159.28 C178.67,160.10 179.33,161.07 180.00,161.87 C180.67,162.67 181.33,163.44 182.00,164.07 C182.67,164.70 183.33,165.28 184.00,165.67 C184.67,166.05 185.33,166.25 186.00,166.37 C186.67,166.48 187.33,166.49 188.00,166.34 C188.67,166.18 189.33,165.78 190.00,165.45 C190.67,165.12 191.33,164.72 192.00,164.35 C192.67,163.98 193.33,163.49 194.00,163.22 C194.67,162.96 195.33,162.80 196.00,162.76 C196.67,162.72 197.33,162.77 198.00,162.98 C198.67,163.19 199.33,163.58 200.00,164.03 C200.67,164.49 201.33,165.02 202.00,165.70 C202.67,166.37 203.33,167.17 204.00,168.09 C204.67,169.01 205.33,170.09 206.00,171.20 C206.67,172.32 207.33,173.55 208.00,174.79 C208.67,176.02 209.33,177.33 210.00,178.60 C210.67,179.88 211.33,181.14 212.00,182.45 C212.67,183.75 213.33,185.02 214.00,186.43 C214.67,187.83 215.33,189.08 216.00,190.88 C216.67,192.68 217.33,194.97 218.00,197.23 C218.67,199.50 219.33,202.37 220.00,204.48 C220.67,206.59 221.33,208.15 222.00,209.90 C222.67,211.64 223.33,213.28 224.00,214.95 C224.67,216.63 225.33,218.33 226.00,219.94 C226.67,221.55 227.33,223.13 228.00,224.61 C228.67,226.08 229.33,227.46 230.00,228.78 C230.67,230.10 231.33,231.35 232.00,232.52 C232.67,233.69 233.33,234.78 234.00,235.82 C234.67,236.86 235.33,237.83 236.00,238.75 C236.67,239.67 237.33,240.53 238.00,241.32 C238.67,242.12 239.33,242.84 240.00,243.51 C240.67,244.18 241.33,244.78 242.00,245.35 C242.67,245.93 243.33,246.45 244.00,246.97 C244.67,247.48 245.33,247.98 246.00,248.45 C246.67,248.92 247.33,249.37 248.00,249.81 C248.67,250.24 249.33,250.65 250.00,251.06 C250.67,251.47 251.33,251.86 252.00,252.24 C252.67,252.63 253.33,253.00 254.00,253.36 C254.67,253.72 255.33,254.07 256.00,254.41 C256.67,254.75 257.33,255.08 258.00,255.41 C258.67,255.75 259.33,256.08 260.00,256.41 C260.67,256.74 261.33,257.07 262.00,257.39 C262.67,257.70 263.33,258.00 264.00,258.31 C264.67,258.61 265.33,258.91 266.00,259.22 C266.67,259.53 267.33,259.84 268.00,260.18 C268.67,260.52 269.33,260.85 270.00,261.25 C270.67,261.65 271.33,262.11 272.00,262.57 C272.67,263.03 273.33,263.53 274.00,264.01 C274.67,264.48 275.33,264.97 276.00,265.44 C276.67,265.91 277.33,266.37 278.00,266.83 C278.67,267.28 279.33,267.72 280.00,268.14 C280.67,268.57 281.33,268.96 282.00,269.36 C282.67,269.75 283.33,270.12 284.00,270.49 C284.67,270.86 285.33,271.22 286.00,271.58 C286.67,271.94 287.33,272.29 288.00,272.65 C288.67,273.01 289.33,273.37 290.00,273.74 C290.67,274.11 291.33,274.49 292.00,274.87 C292.67,275.25 293.33,275.64 294.00,276.03 C294.67,276.42 295.33,276.82 296.00,277.21 C296.67,277.61 297.33,278.00 298.00,278.40 C298.67,278.79 298.33,278.66 300.00,279.58 C301.67,280.50 305.33,282.57 308.00,283.91 C310.67,285.25 313.33,286.63 316.00,287.63 C318.67,288.62 321.33,289.31 324.00,289.86 C326.67,290.42 329.33,290.64 332.00,290.95 C334.67,291.26 337.33,291.44 340.00,291.70 C342.67,291.97 345.33,292.21 348.00,292.52 C350.67,292.83 353.33,293.26 356.00,293.58 C358.67,293.89 361.33,294.13 364.00,294.40 C366.67,294.67 369.33,294.92 372.00,295.18 C374.67,295.45 377.33,295.72 380.00,295.99 C382.67,296.25 385.33,296.53 388.00,296.79 C390.67,297.04 393.33,297.29 396.00,297.52 C398.67,297.75 401.33,297.98 404.00,298.18 C406.67,298.38 409.33,298.57 412.00,298.71 C414.67,298.86 417.33,298.97 420.00,299.06 C422.67,299.16 425.33,299.23 428.00,299.29 C430.67,299.35 433.33,299.39 436.00,299.43 C438.67,299.47 441.33,299.50 444.00,299.53 C446.67,299.55 449.33,299.56 452.00,299.58 C454.67,299.59 457.33,299.60 460.00,299.61 C462.67,299.62 465.25,299.62 468.00,299.63 C470.75,299.63 475.08,299.65 476.50,299.65" stroke="#008080"/>
<path d="M113.70,18.00 C113.98,18.45 114.68,19.95 115.40,20.70 C116.12,21.45 117.17,21.98 118.00,22.50 C118.83,23.02 119.60,23.47 120.40,23.80 C121.20,24.13 121.78,24.42 122.80,24.50 C123.82,24.58 125.22,23.88 126.50,24.30 C127.78,24.72 129.38,25.88 130.50,27.00 C131.62,28.12 132.47,29.60 133.20,31.00 C133.93,32.40 134.35,33.57 134.90,35.40 C135.45,37.23 136.00,39.67 136.50,42.00 C137.00,44.33 137.27,45.12 137.90,49.40 C138.53,53.68 139.43,60.60 140.30,67.70 C141.17,74.80 142.15,84.28 143.10,92.00 C144.05,99.72 145.18,108.36 146.00,114.00 C146.82,119.64 147.33,122.40 148.00,125.85 C148.67,129.30 149.33,132.29 150.00,134.69 C150.67,137.09 151.33,138.72 152.00,140.26 C152.67,141.80 153.33,143.06 154.00,143.93 C154.67,144.81 155.33,145.23 156.00,145.51 C156.67,145.80 157.33,145.59 158.00,145.64 C158.67,145.69 159.33,145.77 160.00,145.81 C160.67,145.85 161.33,145.82 162.00,145.88 C162.67,145.95 163.33,145.98 164.00,146.18 C164.67,146.37 165.33,146.68 166.00,147.05 C166.67,147.42 167.33,147.88 168.00,148.39 C168.67,148.91 169.33,149.47 170.00,150.16 C170.67,150.85 171.33,151.74 172.00,152.52 C172.67,153.30 173.33,154.07 174.00,154.83 C174.67,155.59 175.33,156.30 176.00,157.09 C176.67,157.87 177.33,158.69 178.00,159.53 C178.67,160.38 179.33,161.36 180.00,162.17 C180.67,162.98 181.33,163.75 182.00,164.40 C182.67,165.05 183.33,165.65 184.00,166.06 C184.67,166.47 185.33,166.71 186.00,166.87 C186.67,167.02 187.33,167.09 188.00,166.98 C188.67,166.88 189.33,166.53 190.00,166.25 C190.67,165.97 191.33,165.62 192.00,165.30 C192.67,164.98 193.33,164.53 194.00,164.31 C194.67,164.10 195.33,164.01 196.00,164.03 C196.67,164.04 197.33,164.14 198.00,164.42 C198.67,164.69 199.33,165.14 200.00,165.66 C200.67,166.18 201.33,166.79 202.00,167.52 C202.67,168.25 203.33,169.09 204.00,170.05 C204.67,171.00 205.33,172.12 206.00,173.27 C206.67,174.42 207.33,175.69 208.00,176.94 C208.67,178.20 209.33,179.52 210.00,180.80 C210.67,182.09 211.33,183.35 212.00,184.65 C212.67,185.95 213.33,187.22 214.00,188.62 C214.67,190.02 215.33,191.25 216.00,193.06 C216.67,194.88 217.33,197.19 218.00,199.49 C218.67,201.78 219.33,204.71 220.00,206.84 C220.67,208.96 221.33,210.50 222.00,212.23 C222.67,213.96 223.33,215.57 224.00,217.23 C224.67,218.88 225.33,220.57 226.00,222.16 C226.67,223.75 227.33,225.32 228.00,226.77 C228.67,228.22 229.33,229.58 230.00,230.88 C230.67,232.17 231.33,233.40 232.00,234.55 C232.67,235.70 233.33,236.77 234.00,237.79 C234.67,238.81 235.33,239.77 236.00,240.67 C236.67,241.57 237.33,242.41 238.00,243.18 C238.67,243.95 239.33,244.64 240.00,245.29 C240.67,245.93 241.33,246.50 242.00,247.04 C242.67,247.59 243.33,248.07 244.00,248.56 C244.67,249.04 245.33,249.50 246.00,249.93 C246.67,250.37 247.33,250.78 248.00,251.18 C248.67,251.58 249.33,251.95 250.00,252.32 C250.67,252.69 251.33,253.04 252.00,253.38 C252.67,253.73 253.33,254.06 254.00,254.38 C254.67,254.70 255.33,255.00 256.00,255.30 C256.67,255.59 257.33,255.88 258.00,256.16 C258.67,256.45 259.33,256.74 260.00,257.02 C260.67,257.31 261.33,257.60 262.00,257.87 C262.67,258.15 263.33,258.40 264.00,258.67 C264.67,258.93 265.33,259.19 266.00,259.46 C266.67,259.73 267.33,259.99 268.00,260.29 C268.67,260.59 269.33,260.89 270.00,261.23 C270.67,261.58 271.33,261.97 272.00,262.37 C272.67,262.76 273.33,263.19 274.00,263.61 C274.67,264.03 275.33,264.46 276.00,264.88 C276.67,265.30 277.33,265.72 278.00,266.13 C278.67,266.53 279.33,266.94 280.00,267.32 C280.67,267.71 281.33,268.07 282.00,268.43 C282.67,268.80 283.33,269.14 284.00,269.49 C284.67,269.84 285.33,270.18 286.00,270.53 C286.67,270.87 287.33,271.22 288.00,271.57 C288.67,271.93 289.33,272.28 290.00,272.65 C290.67,273.02 291.33,273.40 292.00,273.78 C292.67,274.16 293.33,274.56 294.00,274.96 C294.67,275.35 295.33,275.76 296.00,276.16 C296.67,276.56 297.33,276.97 298.00,277.37 C298.67,277.77 298.33,277.64 300.00,278.58 C301.67,279.52 305.33,281.63 308.00,283.01 C310.67,284.39 313.33,285.84 316.00,286.87 C318.67,287.91 321.33,288.64 324.00,289.22 C326.67,289.80 329.33,290.04 332.00,290.36 C334.67,290.69 337.33,290.88 340.00,291.16 C342.67,291.44 345.33,291.69 348.00,292.02 C350.67,292.35 353.33,292.81 356.00,293.14 C358.67,293.47 361.33,293.73 364.00,294.01 C366.67,294.29 369.33,294.56 372.00,294.84 C374.67,295.12 377.33,295.40 380.00,295.69 C382.67,295.97 385.33,296.26 388.00,296.53 C390.67,296.80 393.33,297.06 396.00,297.31 C398.67,297.55 401.33,297.80 404.00,298.01 C406.67,298.22 409.33,298.42 412.00,298.57 C414.67,298.73 417.33,298.84 420.00,298.94 C422.67,299.05 425.33,299.12 428.00,299.18 C430.67,299.25 433.33,299.29 436.00,299.33 C438.67,299.38 441.33,299.41 444.00,299.44 C446.67,299.46 449.33,299.48 452.00,299.49 C454.67,299.51 457.33,299.52 460.00,299.53 C462.67,299.54 465.25,299.54 468.00,299.55 C470.75,299.56 475.08,299.57 476.50,299.57" stroke="#0000ff"/>
<path d="M113.70,17.00 C114.43,17.55 116.78,19.30 118.10,20.30 C119.42,21.30 120.30,22.42 121.60,23.00 C122.90,23.58 124.55,23.03 125.90,23.80 C127.25,24.57 128.55,25.67 129.70,27.60 C130.85,29.53 132.00,33.17 132.80,35.40 C133.60,37.63 133.97,38.67 134.50,41.00 C135.03,43.33 135.28,44.90 136.00,49.40 C136.72,53.90 137.72,60.90 138.80,68.00 C139.88,75.10 141.43,85.00 142.50,92.00 C143.57,99.00 144.62,106.33 145.20,110.00 C145.78,113.67 145.53,111.50 146.00,114.00 C146.47,116.50 147.25,121.50 148.00,125.00 C148.75,128.50 149.42,132.05 150.50,135.00 C151.58,137.95 153.08,141.20 154.50,142.70 C155.92,144.20 157.35,143.60 159.00,144.00 C160.65,144.40 162.73,144.35 164.40,145.10 C166.07,145.85 167.57,147.08 169.00,148.50 C170.43,149.92 171.67,151.93 173.00,153.60 C174.33,155.27 175.77,156.93 177.00,158.50 C178.23,160.07 179.23,161.67 180.40,163.00 C181.57,164.33 182.77,165.72 184.00,166.50 C185.23,167.28 186.55,167.70 187.80,167.70 C189.05,167.70 190.30,166.90 191.50,166.50 C192.70,166.10 193.75,165.30 195.00,165.30 C196.25,165.30 197.50,165.38 199.00,166.50 C200.50,167.62 202.17,169.25 204.00,172.00 C205.83,174.75 207.95,179.00 210.00,183.00 C212.05,187.00 214.68,191.78 216.30,196.00 C217.92,200.22 218.42,204.38 219.70,208.30 C220.98,212.22 222.52,215.85 224.00,219.50 C225.48,223.15 227.02,226.95 228.60,230.20 C230.18,233.45 231.78,236.37 233.50,239.00 C235.22,241.63 236.98,244.03 238.90,246.00 C240.82,247.97 242.72,249.33 245.00,250.80 C247.28,252.27 249.93,253.60 252.60,254.80 C255.27,256.00 258.07,256.92 261.00,258.00 C263.93,259.08 267.03,259.88 270.20,261.30 C273.37,262.72 276.57,264.72 280.00,266.50 C283.43,268.28 286.72,269.72 290.80,272.00 C294.88,274.28 299.93,277.70 304.50,280.20 C309.07,282.70 313.95,285.45 318.20,287.00 C322.45,288.55 325.43,288.80 330.00,289.50 C334.57,290.20 341.27,290.67 345.60,291.20 C349.93,291.73 351.43,292.13 356.00,292.70 C360.57,293.27 366.50,293.88 373.00,294.60 C379.50,295.32 388.00,296.33 395.00,297.00 C402.00,297.67 407.50,298.22 415.00,298.60 C422.50,298.98 429.75,299.15 440.00,299.30 C450.25,299.45 470.42,299.47 476.50,299.50" stroke="#00ccff"/>
</g>
<rect x="354.10" y="25.90" width="117.40" height="256.20" fill="#fff" stroke="#a0a0a0" stroke-width="1.3"/>
<line x1="362.6" y1="38.90" x2="389.2" y2="38.90" stroke="#800080" stroke-width="2.1" stroke-linecap="round"/>
<text x="395.0" y="45.50" font-size="19.5" textLength="53.5" lengthAdjust="spacingAndGlyphs" >te = 0 s</text>
<line x1="362.6" y1="61.99" x2="389.2" y2="61.99" stroke="#ff0000" stroke-width="2.1" stroke-linecap="round"/>
<text x="395.0" y="68.59" font-size="19.5" textLength="62.0" lengthAdjust="spacingAndGlyphs" >te = 60 s</text>
<line x1="362.6" y1="85.08" x2="389.2" y2="85.08" stroke="#ff00ff" stroke-width="2.1" stroke-linecap="round"/>
<text x="395.0" y="91.68" font-size="19.5" textLength="70.8" lengthAdjust="spacingAndGlyphs" >te = 120 s</text>
<line x1="362.6" y1="108.17" x2="389.2" y2="108.17" stroke="#ff9900" stroke-width="2.1" stroke-linecap="round"/>
<text x="395.0" y="114.77" font-size="19.5" textLength="70.8" lengthAdjust="spacingAndGlyphs" >te = 180 s</text>
<line x1="362.6" y1="131.26" x2="389.2" y2="131.26" stroke="#ffcc00" stroke-width="2.1" stroke-linecap="round"/>
<text x="395.0" y="137.86" font-size="19.5" textLength="70.8" lengthAdjust="spacingAndGlyphs" >te = 240 s</text>
<line x1="362.6" y1="154.35" x2="389.2" y2="154.35" stroke="#00ff00" stroke-width="2.1" stroke-linecap="round"/>
<text x="395.0" y="160.95" font-size="19.5" textLength="70.8" lengthAdjust="spacingAndGlyphs" >te = 300 s</text>
<line x1="362.6" y1="177.44" x2="389.2" y2="177.44" stroke="#339966" stroke-width="2.1" stroke-linecap="round"/>
<text x="395.0" y="184.04" font-size="19.5" textLength="70.8" lengthAdjust="spacingAndGlyphs" >te = 360 s</text>
<line x1="362.6" y1="200.53" x2="389.2" y2="200.53" stroke="#008000" stroke-width="2.1" stroke-linecap="round"/>
<text x="395.0" y="207.13" font-size="19.5" textLength="70.8" lengthAdjust="spacingAndGlyphs" >te = 420 s</text>
<line x1="362.6" y1="223.62" x2="389.2" y2="223.62" stroke="#008080" stroke-width="2.1" stroke-linecap="round"/>
<text x="395.0" y="230.22" font-size="19.5" textLength="70.8" lengthAdjust="spacingAndGlyphs" >te = 480 s</text>
<line x1="362.6" y1="246.71" x2="389.2" y2="246.71" stroke="#0000ff" stroke-width="2.1" stroke-linecap="round"/>
<text x="395.0" y="253.31" font-size="19.5" textLength="70.8" lengthAdjust="spacingAndGlyphs" >te = 540 s</text>
<line x1="362.6" y1="269.80" x2="389.2" y2="269.80" stroke="#00ccff" stroke-width="2.1" stroke-linecap="round"/>
<text x="395.0" y="276.40" font-size="19.5" textLength="70.8" lengthAdjust="spacingAndGlyphs" >te = 600 s</text>
<text x="76.8" y="28.70" font-size="21" text-anchor="end" >3</text>
<text x="76.8" y="75.70" font-size="21" text-anchor="end" textLength="25.0" lengthAdjust="spacingAndGlyphs" >2.5</text>
<text x="76.8" y="122.70" font-size="21" text-anchor="end" >2</text>
<text x="76.8" y="169.70" font-size="21" text-anchor="end" textLength="25.0" lengthAdjust="spacingAndGlyphs" >1.5</text>
<text x="76.8" y="216.70" font-size="21" text-anchor="end" >1</text>
<text x="76.8" y="263.70" font-size="21" text-anchor="end" textLength="25.0" lengthAdjust="spacingAndGlyphs" >0.5</text>
<text x="76.8" y="310.70" font-size="21" text-anchor="end" >0</text>
<text x="94.40" y="340.8" font-size="21" text-anchor="middle" textLength="32.3" lengthAdjust="spacingAndGlyphs" >200</text>
<text x="189.90" y="340.8" font-size="21" text-anchor="middle" textLength="32.3" lengthAdjust="spacingAndGlyphs" >300</text>
<text x="285.40" y="340.8" font-size="21" text-anchor="middle" textLength="32.3" lengthAdjust="spacingAndGlyphs" >400</text>
<text x="380.90" y="340.8" font-size="21" text-anchor="middle" textLength="32.3" lengthAdjust="spacingAndGlyphs" >500</text>
<text x="476.40" y="340.8" font-size="21" text-anchor="middle" textLength="32.3" lengthAdjust="spacingAndGlyphs" >600</text>
<text x="290.8" y="383.2" font-size="20" text-anchor="middle" textLength="139" lengthAdjust="spacingAndGlyphs" >Wavelength (nm)</text>
<text transform="translate(26.4,159.6) rotate(-90)" font-size="18" text-anchor="middle" textLength="92.5" lengthAdjust="spacingAndGlyphs" >Absorbance</text>
<text x="234.3" y="428.0" font-size="26.5" text-anchor="start">(</text>
<text x="249.6" y="428.0" font-size="24" font-weight="bold" text-anchor="middle">a</text>
<text x="264.6" y="428.0" font-size="26.5" text-anchor="end">)</text>
<g shape-rendering="crispEdges">
<rect x="527.0" y="3" width="493.0" height="1" fill="#b4b4b4"/>
<rect x="527.0" y="391" width="493.0" height="1" fill="#b8b8b8"/>
<rect x="527.0" y="392" width="493.0" height="1" fill="#a4a4a4"/>
<rect x="527" y="3.0" width="1" height="390.0" fill="#c4c4c4"/>
<rect x="528" y="3.0" width="1" height="390.0" fill="#ececec"/>
<rect x="1019" y="3.0" width="1" height="390.0" fill="#c0c0c0"/>
<rect x="619.0" y="20" width="382.0" height="1" fill="#848484"/>
<rect x="619.0" y="67" width="382.0" height="1" fill="#c0c0c0"/>
<rect x="619.0" y="113" width="382.0" height="1" fill="#d2d2d2"/>
<rect x="619.0" y="114" width="382.0" height="1" fill="#dcdcdc"/>
<rect x="619.0" y="161" width="382.0" height="1" fill="#888888"/>
<rect x="619.0" y="208" width="382.0" height="1" fill="#c0c0c0"/>
<rect x="619.0" y="254" width="382.0" height="1" fill="#d0d0d0"/>
<rect x="619.0" y="255" width="382.0" height="1" fill="#e0e0e0"/>
<rect x="1000" y="20.5" width="1" height="282.5" fill="#a0a0a0"/>
<rect x="619" y="20.5" width="1" height="282.5" fill="#a0a0a0"/>
<rect x="619.0" y="302" width="382.0" height="1" fill="#9a9a9a"/>
<rect x="714" y="296.0" width="1" height="6.5" fill="#909090"/>
<rect x="809" y="296.0" width="1" height="6.5" fill="#909090"/>
<rect x="905" y="296.0" width="1" height="6.5" fill="#909090"/>
</g>
<clipPath id="cb"><rect x="618.3" y="20.20" width="383.3" height="286.0"/></clipPath>
<g clip-path="url(#cb)" fill="none" stroke-width="2.2" stroke-linejoin="round" stroke-linecap="butt">
<path d="M636.00,5.00 C636.73,7.57 639.32,16.82 640.40,20.40 C641.48,23.98 641.78,25.00 642.50,26.50 C643.22,28.00 643.95,29.40 644.70,29.40 C645.45,29.40 646.18,28.00 647.00,26.50 C647.82,25.00 648.60,23.48 649.60,20.40 C650.60,17.32 651.43,10.07 653.00,8.00 C654.57,5.93 657.40,5.93 659.00,8.00 C660.60,10.07 661.68,15.07 662.60,20.40 C663.52,25.73 663.78,32.07 664.50,40.00 C665.22,47.93 666.15,58.00 666.90,68.00 C667.65,78.00 668.32,89.67 669.00,100.00 C669.68,110.33 670.33,120.83 671.00,130.00 C671.67,139.17 672.25,147.00 673.00,155.00 C673.75,163.00 674.67,171.67 675.50,178.00 C676.33,184.33 677.18,189.42 678.00,193.00 C678.82,196.58 679.57,199.17 680.40,199.50 C681.23,199.83 682.07,197.42 683.00,195.00 C683.93,192.58 684.83,188.50 686.00,185.00 C687.17,181.50 688.83,177.08 690.00,174.00 C691.17,170.92 692.03,168.73 693.00,166.50 C693.97,164.27 694.88,162.35 695.80,160.60 C696.72,158.85 697.58,157.02 698.50,156.00 C699.42,154.98 700.30,154.50 701.30,154.50 C702.30,154.50 703.38,155.53 704.50,156.00 C705.62,156.47 706.92,157.38 708.00,157.30 C709.08,157.22 709.83,156.88 711.00,155.50 C712.17,154.12 713.50,151.58 715.00,149.00 C716.50,146.42 718.50,142.33 720.00,140.00 C721.50,137.67 722.73,136.18 724.00,135.00 C725.27,133.82 726.43,132.98 727.60,132.90 C728.77,132.82 729.77,133.32 731.00,134.50 C732.23,135.68 733.62,137.90 735.00,140.00 C736.38,142.10 737.80,144.10 739.30,147.10 C740.80,150.10 742.47,154.18 744.00,158.00 C745.53,161.82 746.67,165.00 748.50,170.00 C750.33,175.00 752.63,181.33 755.00,188.00 C757.37,194.67 760.20,204.33 762.70,210.00 C765.20,215.67 767.12,217.17 770.00,222.00 C772.88,226.83 776.62,233.45 780.00,239.00 C783.38,244.55 787.30,250.55 790.30,255.30 C793.30,260.05 795.48,263.73 798.00,267.50 C800.52,271.27 803.23,275.18 805.40,277.90 C807.57,280.62 808.90,281.92 811.00,283.80 C813.10,285.68 815.50,287.42 818.00,289.20 C820.50,290.98 823.08,292.83 826.00,294.50 C828.92,296.17 831.50,298.20 835.50,299.20 C839.50,300.20 822.48,300.28 850.00,300.50 C877.52,300.72 975.50,300.50 1000.60,300.50" stroke="#800080"/>
<path d="M633.00,8.00 C633.50,10.07 634.83,15.07 636.00,20.40 C637.17,25.73 638.83,34.90 640.00,40.00 C641.17,45.10 642.17,48.55 643.00,51.00 C643.83,53.45 644.33,54.70 645.00,54.70 C645.67,54.70 646.17,53.45 647.00,51.00 C647.83,48.55 648.83,44.00 650.00,40.00 C651.17,36.00 652.78,30.10 654.00,27.00 C655.22,23.90 656.22,21.40 657.30,21.40 C658.38,21.40 659.55,23.90 660.50,27.00 C661.45,30.10 662.15,33.17 663.00,40.00 C663.85,46.83 664.77,58.00 665.60,68.00 C666.43,78.00 667.27,89.67 668.00,100.00 C668.73,110.33 669.33,120.83 670.00,130.00 C670.67,139.17 671.17,146.67 672.00,155.00 C672.83,163.33 673.92,173.17 675.00,180.00 C676.08,186.83 677.28,192.25 678.50,196.00 C679.72,199.75 681.05,202.33 682.30,202.50 C683.55,202.67 684.72,199.58 686.00,197.00 C687.28,194.42 688.67,190.17 690.00,187.00 C691.33,183.83 692.67,180.42 694.00,178.00 C695.33,175.58 696.67,173.77 698.00,172.50 C699.33,171.23 700.67,170.52 702.00,170.40 C703.33,170.28 704.75,171.38 706.00,171.80 C707.25,172.22 708.33,173.03 709.50,172.90 C710.67,172.77 711.58,172.57 713.00,171.00 C714.42,169.43 716.33,166.08 718.00,163.50 C719.67,160.92 721.33,157.83 723.00,155.50 C724.67,153.17 726.52,150.90 728.00,149.50 C729.48,148.10 730.57,147.18 731.90,147.10 C733.23,147.02 734.48,147.52 736.00,149.00 C737.52,150.48 739.00,152.55 741.00,156.00 C743.00,159.45 745.83,164.70 748.00,169.70 C750.17,174.70 751.97,179.70 754.00,186.00 C756.03,192.30 758.13,201.83 760.20,207.50 C762.27,213.17 764.27,215.58 766.40,220.00 C768.53,224.42 770.68,229.17 773.00,234.00 C775.32,238.83 777.63,244.75 780.30,249.00 C782.97,253.25 786.08,256.37 789.00,259.50 C791.92,262.63 795.07,264.95 797.80,267.80 C800.53,270.65 802.53,273.57 805.40,276.60 C808.27,279.63 811.73,283.35 815.00,286.00 C818.27,288.65 820.83,290.58 825.00,292.50 C829.17,294.42 834.17,296.33 840.00,297.50 C845.83,298.67 850.00,299.03 860.00,299.50 C870.00,299.97 876.57,300.17 900.00,300.30 C923.43,300.43 983.83,300.30 1000.60,300.30" stroke="#ff0000"/>
<path d="M626.00,13.00 C626.33,14.23 626.92,17.57 628.00,20.40 C629.08,23.23 631.17,26.95 632.50,30.00 C633.83,33.05 635.00,35.70 636.00,38.70 C637.00,41.70 637.77,44.92 638.50,48.00 C639.23,51.08 639.70,54.03 640.40,57.20 C641.10,60.37 641.93,64.58 642.70,67.00 C643.47,69.42 644.28,71.37 645.00,71.70 C645.72,72.03 646.13,70.95 647.00,69.00 C647.87,67.05 649.03,63.83 650.20,60.00 C651.37,56.17 652.82,49.25 654.00,46.00 C655.18,42.75 656.22,40.50 657.30,40.50 C658.38,40.50 659.47,42.75 660.50,46.00 C661.53,49.25 662.75,55.67 663.50,60.00 C664.25,64.33 664.33,65.33 665.00,72.00 C665.67,78.67 666.75,90.33 667.50,100.00 C668.25,109.67 668.78,120.83 669.50,130.00 C670.22,139.17 670.97,146.67 671.80,155.00 C672.63,163.33 673.47,172.50 674.50,180.00 C675.53,187.50 676.70,195.05 678.00,200.00 C679.30,204.95 680.97,208.78 682.30,209.70 C683.63,210.62 684.72,207.45 686.00,205.50 C687.28,203.55 688.67,200.42 690.00,198.00 C691.33,195.58 692.67,193.00 694.00,191.00 C695.33,189.00 696.50,187.18 698.00,186.00 C699.50,184.82 701.50,184.10 703.00,183.90 C704.50,183.70 705.78,184.60 707.00,184.80 C708.22,185.00 709.13,185.48 710.30,185.10 C711.47,184.72 712.55,184.18 714.00,182.50 C715.45,180.82 717.33,177.58 719.00,175.00 C720.67,172.42 722.33,169.42 724.00,167.00 C725.67,164.58 727.47,161.97 729.00,160.50 C730.53,159.03 731.87,158.28 733.20,158.20 C734.53,158.12 735.37,158.37 737.00,160.00 C738.63,161.63 741.00,164.50 743.00,168.00 C745.00,171.50 747.17,176.67 749.00,181.00 C750.83,185.33 752.35,189.58 754.00,194.00 C755.65,198.42 756.90,202.33 758.90,207.50 C760.90,212.67 763.65,219.58 766.00,225.00 C768.35,230.42 770.62,235.17 773.00,240.00 C775.38,244.83 777.47,249.83 780.30,254.00 C783.13,258.17 787.22,262.08 790.00,265.00 C792.78,267.92 794.43,269.15 797.00,271.50 C799.57,273.85 802.40,276.60 805.40,279.10 C808.40,281.60 810.82,284.18 815.00,286.50 C819.18,288.82 825.50,291.25 830.50,293.00 C835.50,294.75 838.42,295.92 845.00,297.00 C851.58,298.08 844.07,298.97 870.00,299.50 C895.93,300.03 978.83,300.08 1000.60,300.20" stroke="#ff00ff"/>
<path d="M619.30,20.40 C619.73,22.42 621.07,28.83 621.90,32.50 C622.73,36.17 623.45,40.15 624.30,42.40 C625.15,44.65 625.97,44.98 627.00,46.00 C628.03,47.02 629.42,47.17 630.50,48.50 C631.58,49.83 632.47,51.53 633.50,54.00 C634.53,56.47 635.62,59.47 636.70,63.30 C637.78,67.13 639.03,72.88 640.00,77.00 C640.97,81.12 641.67,85.18 642.50,88.00 C643.33,90.82 644.17,93.73 645.00,93.90 C645.83,94.07 646.50,91.82 647.50,89.00 C648.50,86.18 649.83,80.50 651.00,77.00 C652.17,73.50 653.40,70.12 654.50,68.00 C655.60,65.88 656.60,64.30 657.60,64.30 C658.60,64.30 659.60,65.38 660.50,68.00 C661.40,70.62 662.17,75.00 663.00,80.00 C663.83,85.00 664.67,91.67 665.50,98.00 C666.33,104.33 667.17,111.00 668.00,118.00 C668.83,125.00 669.75,133.00 670.50,140.00 C671.25,147.00 671.75,152.50 672.50,160.00 C673.25,167.50 674.00,177.00 675.00,185.00 C676.00,193.00 677.18,202.13 678.50,208.00 C679.82,213.87 681.48,219.03 682.90,220.20 C684.32,221.37 685.65,217.12 687.00,215.00 C688.35,212.88 689.67,209.83 691.00,207.50 C692.33,205.17 693.67,202.75 695.00,201.00 C696.33,199.25 697.78,197.90 699.00,197.00 C700.22,196.10 700.97,195.68 702.30,195.60 C703.63,195.52 705.45,196.30 707.00,196.50 C708.55,196.70 710.27,197.13 711.60,196.80 C712.93,196.47 713.60,196.22 715.00,194.50 C716.40,192.78 718.33,189.25 720.00,186.50 C721.67,183.75 723.33,180.50 725.00,178.00 C726.67,175.50 728.43,172.97 730.00,171.50 C731.57,170.03 732.90,169.12 734.40,169.20 C735.90,169.28 737.15,170.07 739.00,172.00 C740.85,173.93 743.50,176.97 745.50,180.80 C747.50,184.63 749.42,190.33 751.00,195.00 C752.58,199.67 753.67,204.63 755.00,208.80 C756.33,212.97 757.17,215.47 759.00,220.00 C760.83,224.53 763.67,231.17 766.00,236.00 C768.33,240.83 770.62,245.17 773.00,249.00 C775.38,252.83 777.47,255.83 780.30,259.00 C783.13,262.17 787.22,265.50 790.00,268.00 C792.78,270.50 794.43,271.72 797.00,274.00 C799.57,276.28 802.40,279.37 805.40,281.70 C808.40,284.03 810.90,286.20 815.00,288.00 C819.10,289.80 824.17,291.28 830.00,292.50 C835.83,293.72 842.00,294.58 850.00,295.30 C858.00,296.02 871.33,296.27 878.00,296.80 C884.67,297.33 886.33,297.97 890.00,298.50 C893.67,299.03 881.57,299.72 900.00,300.00 C918.43,300.28 983.83,300.17 1000.60,300.20" stroke="#ff9900"/>
<path d="M619.30,82.80 C619.67,83.83 620.67,86.95 621.50,89.00 C622.33,91.05 623.22,93.77 624.30,95.10 C625.38,96.43 626.77,96.48 628.00,97.00 C629.23,97.52 630.62,97.37 631.70,98.20 C632.78,99.03 633.47,100.15 634.50,102.00 C635.53,103.85 636.82,106.30 637.90,109.30 C638.98,112.30 640.15,117.05 641.00,120.00 C641.85,122.95 642.33,125.33 643.00,127.00 C643.67,128.67 644.25,130.08 645.00,130.00 C645.75,129.92 646.50,128.58 647.50,126.50 C648.50,124.42 649.83,120.17 651.00,117.50 C652.17,114.83 653.40,112.17 654.50,110.50 C655.60,108.83 656.60,107.42 657.60,107.50 C658.60,107.58 659.60,108.58 660.50,111.00 C661.40,113.42 662.17,117.50 663.00,122.00 C663.83,126.50 664.40,131.67 665.50,138.00 C666.60,144.33 668.38,152.17 669.60,160.00 C670.82,167.83 671.73,176.67 672.80,185.00 C673.87,193.33 674.92,203.17 676.00,210.00 C677.08,216.83 678.05,222.25 679.30,226.00 C680.55,229.75 682.13,232.08 683.50,232.50 C684.87,232.92 686.17,230.17 687.50,228.50 C688.83,226.83 690.17,224.33 691.50,222.50 C692.83,220.67 694.25,218.92 695.50,217.50 C696.75,216.08 697.87,214.77 699.00,214.00 C700.13,213.23 700.97,213.02 702.30,212.90 C703.63,212.78 705.45,213.20 707.00,213.30 C708.55,213.40 710.27,213.80 711.60,213.50 C712.93,213.20 713.60,212.92 715.00,211.50 C716.40,210.08 718.33,207.33 720.00,205.00 C721.67,202.67 723.33,199.75 725.00,197.50 C726.67,195.25 728.43,192.85 730.00,191.50 C731.57,190.15 732.90,189.32 734.40,189.40 C735.90,189.48 737.23,190.15 739.00,192.00 C740.77,193.85 743.17,197.50 745.00,200.50 C746.83,203.50 748.33,206.73 750.00,210.00 C751.67,213.27 753.00,216.10 755.00,220.10 C757.00,224.10 759.50,229.35 762.00,234.00 C764.50,238.65 766.95,243.20 770.00,248.00 C773.05,252.80 776.97,258.88 780.30,262.80 C783.63,266.72 785.82,267.93 790.00,271.50 C794.18,275.07 801.23,281.20 805.40,284.20 C809.57,287.20 810.82,287.95 815.00,289.50 C819.18,291.05 824.67,292.45 830.50,293.50 C836.33,294.55 843.42,295.18 850.00,295.80 C856.58,296.42 863.33,296.70 870.00,297.20 C876.67,297.70 885.00,298.33 890.00,298.80 C895.00,299.27 881.57,299.80 900.00,300.00 C918.43,300.20 983.83,300.00 1000.60,300.00" stroke="#ffcc00"/>
<path d="M619.30,95.80 C619.67,96.83 620.67,99.97 621.50,102.00 C622.33,104.03 623.30,106.58 624.30,108.00 C625.30,109.42 626.47,109.80 627.50,110.50 C628.53,111.20 629.42,111.12 630.50,112.20 C631.58,113.28 632.83,114.70 634.00,117.00 C635.17,119.30 636.33,122.67 637.50,126.00 C638.67,129.33 640.08,134.25 641.00,137.00 C641.92,139.75 642.33,141.20 643.00,142.50 C643.67,143.80 644.25,144.88 645.00,144.80 C645.75,144.72 646.50,143.80 647.50,142.00 C648.50,140.20 649.83,136.42 651.00,134.00 C652.17,131.58 653.43,129.08 654.50,127.50 C655.57,125.92 656.48,124.50 657.40,124.50 C658.32,124.50 659.15,125.25 660.00,127.50 C660.85,129.75 661.75,134.25 662.50,138.00 C663.25,141.75 663.75,146.33 664.50,150.00 C665.25,153.67 666.03,154.17 667.00,160.00 C667.97,165.83 669.25,177.00 670.30,185.00 C671.35,193.00 672.35,201.33 673.30,208.00 C674.25,214.67 674.97,220.42 676.00,225.00 C677.03,229.58 678.25,233.33 679.50,235.50 C680.75,237.67 682.08,238.17 683.50,238.00 C684.92,237.83 686.42,236.00 688.00,234.50 C689.58,233.00 691.33,230.67 693.00,229.00 C694.67,227.33 696.50,225.58 698.00,224.50 C699.50,223.42 700.72,222.92 702.00,222.50 C703.28,222.08 704.20,222.03 705.70,222.00 C707.20,221.97 709.28,222.72 711.00,222.30 C712.72,221.88 714.33,220.97 716.00,219.50 C717.67,218.03 719.33,215.50 721.00,213.50 C722.67,211.50 724.50,209.08 726.00,207.50 C727.50,205.92 728.70,204.75 730.00,204.00 C731.30,203.25 732.47,202.83 733.80,203.00 C735.13,203.17 736.47,203.67 738.00,205.00 C739.53,206.33 741.17,208.50 743.00,211.00 C744.83,213.50 747.00,216.38 749.00,220.00 C751.00,223.62 752.67,228.20 755.00,232.70 C757.33,237.20 760.33,242.62 763.00,247.00 C765.67,251.38 768.12,255.32 771.00,259.00 C773.88,262.68 777.13,266.10 780.30,269.10 C783.47,272.10 785.82,274.07 790.00,277.00 C794.18,279.93 800.40,284.20 805.40,286.70 C810.40,289.20 814.23,290.45 820.00,292.00 C825.77,293.55 831.67,294.90 840.00,296.00 C848.33,297.10 853.33,298.10 870.00,298.60 C886.67,299.10 925.00,298.98 940.00,299.00 C955.00,299.02 949.90,298.75 960.00,298.70 C970.10,298.65 993.83,298.70 1000.60,298.70" stroke="#00ff00"/>
<path d="M619.30,134.40 C619.75,135.17 620.95,137.57 622.00,139.00 C623.05,140.43 624.43,141.92 625.60,143.00 C626.77,144.08 627.77,144.67 629.00,145.50 C630.23,146.33 631.92,146.75 633.00,148.00 C634.08,149.25 634.68,151.00 635.50,153.00 C636.32,155.00 636.98,157.58 637.90,160.00 C638.82,162.42 640.15,165.67 641.00,167.50 C641.85,169.33 642.33,170.20 643.00,171.00 C643.67,171.80 644.25,172.47 645.00,172.30 C645.75,172.13 646.50,171.38 647.50,170.00 C648.50,168.62 649.83,165.83 651.00,164.00 C652.17,162.17 653.50,160.17 654.50,159.00 C655.50,157.83 656.17,157.00 657.00,157.00 C657.83,157.00 658.67,157.33 659.50,159.00 C660.33,160.67 661.25,163.83 662.00,167.00 C662.75,170.17 663.33,173.83 664.00,178.00 C664.67,182.17 665.22,187.33 666.00,192.00 C666.78,196.67 667.78,201.00 668.70,206.00 C669.62,211.00 670.45,217.00 671.50,222.00 C672.55,227.00 673.75,232.08 675.00,236.00 C676.25,239.92 677.68,243.40 679.00,245.50 C680.32,247.60 681.57,248.52 682.90,248.60 C684.23,248.68 685.48,247.18 687.00,246.00 C688.52,244.82 690.33,242.92 692.00,241.50 C693.67,240.08 695.23,238.50 697.00,237.50 C698.77,236.50 700.85,235.78 702.60,235.50 C704.35,235.22 705.87,235.68 707.50,235.80 C709.13,235.92 710.82,236.50 712.40,236.20 C713.98,235.90 715.40,235.12 717.00,234.00 C718.60,232.88 720.33,231.08 722.00,229.50 C723.67,227.92 725.50,225.83 727.00,224.50 C728.50,223.17 729.87,222.10 731.00,221.50 C732.13,220.90 732.63,220.73 733.80,220.90 C734.97,221.07 736.47,221.48 738.00,222.50 C739.53,223.52 741.17,224.75 743.00,227.00 C744.83,229.25 747.00,232.55 749.00,236.00 C751.00,239.45 752.67,244.03 755.00,247.70 C757.33,251.37 760.33,254.78 763.00,258.00 C765.67,261.22 768.12,264.10 771.00,267.00 C773.88,269.90 777.13,272.98 780.30,275.40 C783.47,277.82 785.82,279.20 790.00,281.50 C794.18,283.80 800.40,287.20 805.40,289.20 C810.40,291.20 814.23,292.25 820.00,293.50 C825.77,294.75 831.67,295.78 840.00,296.70 C848.33,297.62 843.23,298.45 870.00,299.00 C896.77,299.55 978.83,299.83 1000.60,300.00" stroke="#339966"/>
<path d="M619.30,161.90 C619.92,162.42 621.80,164.07 623.00,165.00 C624.20,165.93 625.25,166.68 626.50,167.50 C627.75,168.32 629.33,168.98 630.50,169.90 C631.67,170.82 632.47,171.67 633.50,173.00 C634.53,174.33 635.62,175.98 636.70,177.90 C637.78,179.82 639.03,182.65 640.00,184.50 C640.97,186.35 641.67,187.83 642.50,189.00 C643.33,190.17 644.17,191.33 645.00,191.50 C645.83,191.67 646.50,191.08 647.50,190.00 C648.50,188.92 649.92,186.58 651.00,185.00 C652.08,183.42 653.10,181.58 654.00,180.50 C654.90,179.42 655.57,178.58 656.40,178.50 C657.23,178.42 658.15,178.75 659.00,180.00 C659.85,181.25 660.67,183.50 661.50,186.00 C662.33,188.50 663.10,191.67 664.00,195.00 C664.90,198.33 665.90,201.50 666.90,206.00 C667.90,210.50 668.90,216.83 670.00,222.00 C671.10,227.17 672.25,232.67 673.50,237.00 C674.75,241.33 676.33,245.42 677.50,248.00 C678.67,250.58 679.62,251.50 680.50,252.50 C681.38,253.50 681.88,254.00 682.80,254.00 C683.72,254.00 684.63,253.33 686.00,252.50 C687.37,251.67 689.33,250.08 691.00,249.00 C692.67,247.92 694.28,246.75 696.00,246.00 C697.72,245.25 699.63,244.67 701.30,244.50 C702.97,244.33 704.35,244.85 706.00,245.00 C707.65,245.15 709.53,245.65 711.20,245.40 C712.87,245.15 714.37,244.48 716.00,243.50 C717.63,242.52 719.33,240.83 721.00,239.50 C722.67,238.17 724.50,236.55 726.00,235.50 C727.50,234.45 728.87,233.67 730.00,233.20 C731.13,232.73 731.63,232.57 732.80,232.70 C733.97,232.83 735.47,233.12 737.00,234.00 C738.53,234.88 740.17,236.17 742.00,238.00 C743.83,239.83 745.83,241.92 748.00,245.00 C750.17,248.08 752.50,253.00 755.00,256.50 C757.50,260.00 760.33,263.17 763.00,266.00 C765.67,268.83 768.12,271.17 771.00,273.50 C773.88,275.83 777.13,278.08 780.30,280.00 C783.47,281.92 785.82,283.17 790.00,285.00 C794.18,286.83 800.40,289.42 805.40,291.00 C810.40,292.58 814.23,293.50 820.00,294.50 C825.77,295.50 831.67,296.28 840.00,297.00 C848.33,297.72 851.67,298.47 870.00,298.80 C888.33,299.13 934.17,298.80 950.00,299.00 C965.83,299.20 956.57,299.83 965.00,300.00 C973.43,300.17 994.67,300.00 1000.60,300.00" stroke="#008000"/>
<path d="M619.30,199.20 C619.92,199.58 621.72,200.78 623.00,201.50 C624.28,202.22 625.75,202.95 627.00,203.50 C628.25,204.05 629.33,204.13 630.50,204.80 C631.67,205.47 632.83,206.30 634.00,207.50 C635.17,208.70 636.33,210.42 637.50,212.00 C638.67,213.58 640.08,215.70 641.00,217.00 C641.92,218.30 642.38,219.17 643.00,219.80 C643.62,220.43 644.03,220.85 644.70,220.80 C645.37,220.75 646.03,220.38 647.00,219.50 C647.97,218.62 649.33,216.70 650.50,215.50 C651.67,214.30 652.92,213.05 654.00,212.30 C655.08,211.55 656.08,210.97 657.00,211.00 C657.92,211.03 658.67,211.42 659.50,212.50 C660.33,213.58 661.17,215.58 662.00,217.50 C662.83,219.42 663.60,221.92 664.50,224.00 C665.40,226.08 666.32,226.83 667.40,230.00 C668.48,233.17 669.82,239.17 671.00,243.00 C672.18,246.83 673.42,250.08 674.50,253.00 C675.58,255.92 676.58,258.58 677.50,260.50 C678.42,262.42 679.12,263.62 680.00,264.50 C680.88,265.38 681.80,265.80 682.80,265.80 C683.80,265.80 684.63,265.22 686.00,264.50 C687.37,263.78 689.33,262.42 691.00,261.50 C692.67,260.58 694.28,259.57 696.00,259.00 C697.72,258.43 699.63,258.22 701.30,258.10 C702.97,257.98 704.35,258.25 706.00,258.30 C707.65,258.35 709.53,258.62 711.20,258.40 C712.87,258.18 714.37,257.73 716.00,257.00 C717.63,256.27 719.33,255.00 721.00,254.00 C722.67,253.00 724.50,251.80 726.00,251.00 C727.50,250.20 728.77,249.62 730.00,249.20 C731.23,248.78 732.23,248.45 733.40,248.50 C734.57,248.55 735.57,248.75 737.00,249.50 C738.43,250.25 740.17,251.42 742.00,253.00 C743.83,254.58 745.83,256.73 748.00,259.00 C750.17,261.27 752.50,264.27 755.00,266.60 C757.50,268.93 760.33,270.93 763.00,273.00 C765.67,275.07 768.12,277.13 771.00,279.00 C773.88,280.87 777.13,282.62 780.30,284.20 C783.47,285.78 785.82,287.03 790.00,288.50 C794.18,289.97 800.40,291.75 805.40,293.00 C810.40,294.25 815.82,295.17 820.00,296.00 C824.18,296.83 823.83,297.43 830.50,298.00 C837.17,298.57 848.42,299.08 860.00,299.40 C871.58,299.72 876.57,299.80 900.00,299.90 C923.43,300.00 983.83,299.98 1000.60,300.00" stroke="#008080"/>
<path d="M619.30,298.20 L666.70,298.20 L668.00,299.50 L676.00,299.60 L677.60,300.10 L693.00,300.10 L695.00,299.60 L752.60,299.60 L754.00,300.30 L885.00,300.50 L897.00,300.80 L903.00,301.20" stroke="#0000ff"/>
<path d="M619.30,301.50 L1000.60,301.50" stroke="#00ccff"/>
</g>
<rect x="883.50" y="23.90" width="112.00" height="267.10" fill="#fff" stroke="#a0a0a0" stroke-width="1.3"/>
<line x1="889.0" y1="37.80" x2="915.7" y2="37.80" stroke="#800080" stroke-width="2.1" stroke-linecap="round"/>
<text x="921.0" y="44.40" font-size="19.5" textLength="53.5" lengthAdjust="spacingAndGlyphs" >te = 0 s</text>
<line x1="889.0" y1="61.97" x2="915.7" y2="61.97" stroke="#ff0000" stroke-width="2.1" stroke-linecap="round"/>
<text x="921.0" y="68.57" font-size="19.5" textLength="62.0" lengthAdjust="spacingAndGlyphs" >te = 60 s</text>
<line x1="889.0" y1="86.14" x2="915.7" y2="86.14" stroke="#ff00ff" stroke-width="2.1" stroke-linecap="round"/>
<text x="921.0" y="92.74" font-size="19.5" textLength="70.8" lengthAdjust="spacingAndGlyphs" >te = 120 s</text>
<line x1="889.0" y1="110.31" x2="915.7" y2="110.31" stroke="#ff9900" stroke-width="2.1" stroke-linecap="round"/>
<text x="921.0" y="116.91" font-size="19.5" textLength="70.8" lengthAdjust="spacingAndGlyphs" >te = 180 s</text>
<line x1="889.0" y1="134.48" x2="915.7" y2="134.48" stroke="#ffcc00" stroke-width="2.1" stroke-linecap="round"/>
<text x="921.0" y="141.08" font-size="19.5" textLength="70.8" lengthAdjust="spacingAndGlyphs" >te = 240 s</text>
<line x1="889.0" y1="158.65" x2="915.7" y2="158.65" stroke="#00ff00" stroke-width="2.1" stroke-linecap="round"/>
<text x="921.0" y="165.25" font-size="19.5" textLength="70.8" lengthAdjust="spacingAndGlyphs" >te = 300 s</text>
<line x1="889.0" y1="182.82" x2="915.7" y2="182.82" stroke="#339966" stroke-width="2.1" stroke-linecap="round"/>
<text x="921.0" y="189.42" font-size="19.5" textLength="70.8" lengthAdjust="spacingAndGlyphs" >te = 360 s</text>
<line x1="889.0" y1="206.99" x2="915.7" y2="206.99" stroke="#008000" stroke-width="2.1" stroke-linecap="round"/>
<text x="921.0" y="213.59" font-size="19.5" textLength="70.8" lengthAdjust="spacingAndGlyphs" >te = 420 s</text>
<line x1="889.0" y1="231.16" x2="915.7" y2="231.16" stroke="#008080" stroke-width="2.1" stroke-linecap="round"/>
<text x="921.0" y="237.76" font-size="19.5" textLength="70.8" lengthAdjust="spacingAndGlyphs" >te = 480 s</text>
<line x1="889.0" y1="255.33" x2="915.7" y2="255.33" stroke="#0000ff" stroke-width="2.1" stroke-linecap="round"/>
<text x="921.0" y="261.93" font-size="19.5" textLength="70.8" lengthAdjust="spacingAndGlyphs" >te = 540 s</text>
<line x1="889.0" y1="279.50" x2="915.7" y2="279.50" stroke="#00ccff" stroke-width="2.1" stroke-linecap="round"/>
<text x="921.0" y="286.10" font-size="19.5" textLength="70.8" lengthAdjust="spacingAndGlyphs" >te = 600 s</text>
<text x="601.2" y="28.70" font-size="21" text-anchor="end" >3</text>
<text x="601.2" y="75.70" font-size="21" text-anchor="end" textLength="25.0" lengthAdjust="spacingAndGlyphs" >2.5</text>
<text x="601.2" y="122.70" font-size="21" text-anchor="end" >2</text>
<text x="601.2" y="169.70" font-size="21" text-anchor="end" textLength="25.0" lengthAdjust="spacingAndGlyphs" >1.5</text>
<text x="601.2" y="216.70" font-size="21" text-anchor="end" >1</text>
<text x="601.2" y="263.70" font-size="21" text-anchor="end" textLength="25.0" lengthAdjust="spacingAndGlyphs" >0.5</text>
<text x="601.2" y="310.70" font-size="21" text-anchor="end" >0</text>
<text x="619.20" y="340.8" font-size="21" text-anchor="middle" textLength="32.3" lengthAdjust="spacingAndGlyphs" >200</text>
<text x="714.52" y="340.8" font-size="21" text-anchor="middle" textLength="32.3" lengthAdjust="spacingAndGlyphs" >300</text>
<text x="809.85" y="340.8" font-size="21" text-anchor="middle" textLength="32.3" lengthAdjust="spacingAndGlyphs" >400</text>
<text x="905.17" y="340.8" font-size="21" text-anchor="middle" textLength="32.3" lengthAdjust="spacingAndGlyphs" >500</text>
<text x="1000.50" y="340.8" font-size="21" text-anchor="middle" textLength="32.3" lengthAdjust="spacingAndGlyphs" >600</text>
<text x="815.3" y="383.2" font-size="20" text-anchor="middle" textLength="139" lengthAdjust="spacingAndGlyphs" >Wavelength (nm)</text>
<text transform="translate(551.0,159.6) rotate(-90)" font-size="18" text-anchor="middle" textLength="92.5" lengthAdjust="spacingAndGlyphs" >Absorbance</text>
<text x="758.0" y="428.0" font-size="26.5" text-anchor="start">(</text>
<text x="774.5" y="428.0" font-size="24" font-weight="bold" text-anchor="middle">b</text>
<text x="790.1" y="428.0" font-size="26.5" text-anchor="end">)</text>
</svg>
</body></html>
